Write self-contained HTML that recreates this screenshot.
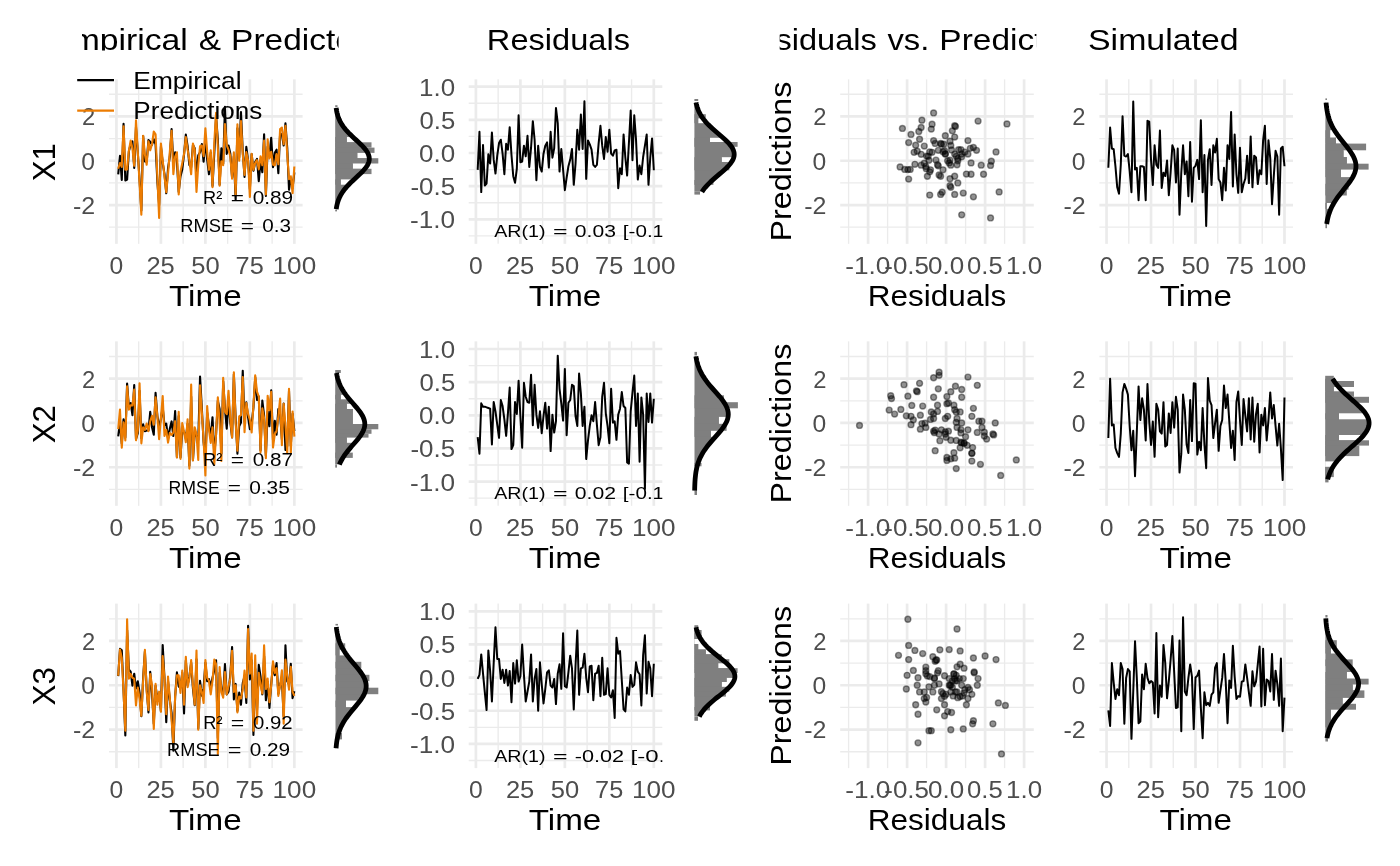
<!DOCTYPE html><html><head><meta charset="utf-8"><style>html,body{margin:0;padding:0;background:#fff;overflow:hidden}svg{display:block;will-change:transform}text{font-family:"Liberation Sans",sans-serif}</style></head><body><svg width="1400" height="866" viewBox="0 0 1400 866" font-family="Liberation Sans, sans-serif">
<rect width="1400" height="866" fill="#fff"/>
<defs>
<clipPath id="ct1"><rect x="82" y="0" width="256.6" height="50.5"/></clipPath>
<clipPath id="ct3"><rect x="779.7" y="0" width="256.7" height="50.5"/></clipPath>
<clipPath id="p10"><rect x="109.00" y="79.35" width="193.6" height="164.5"/></clipPath>
<clipPath id="p20"><rect x="468.70" y="79.35" width="193.6" height="164.5"/></clipPath>
<clipPath id="p30"><rect x="840.20" y="79.35" width="193.6" height="164.5"/></clipPath>
<clipPath id="p40"><rect x="1099.40" y="79.35" width="193.6" height="164.5"/></clipPath>
<clipPath id="p11"><rect x="109.00" y="341.35" width="193.6" height="164.5"/></clipPath>
<clipPath id="p21"><rect x="468.70" y="341.35" width="193.6" height="164.5"/></clipPath>
<clipPath id="p31"><rect x="840.20" y="341.35" width="193.6" height="164.5"/></clipPath>
<clipPath id="p41"><rect x="1099.40" y="341.35" width="193.6" height="164.5"/></clipPath>
<clipPath id="p12"><rect x="109.00" y="603.60" width="193.6" height="164.5"/></clipPath>
<clipPath id="p22"><rect x="468.70" y="603.60" width="193.6" height="164.5"/></clipPath>
<clipPath id="p32"><rect x="840.20" y="603.60" width="193.6" height="164.5"/></clipPath>
<clipPath id="p42"><rect x="1099.40" y="603.60" width="193.6" height="164.5"/></clipPath>
</defs>
<g clip-path="url(#ct1)">
<text x="49.18" y="50.00" font-size="30.20" textLength="138.71" lengthAdjust="spacingAndGlyphs" fill="#000">Empirical</text>
<text x="198.69" y="50.00" font-size="30.20" textLength="22.28" lengthAdjust="spacingAndGlyphs" fill="#000">&amp;</text>
<text x="231.11" y="50.00" font-size="30.20" textLength="141.25" lengthAdjust="spacingAndGlyphs" fill="#000">Predicted</text>
</g>
<text x="486.87" y="50.00" font-size="30.20" textLength="143.11" lengthAdjust="spacingAndGlyphs" fill="#000">Residuals</text>
<g clip-path="url(#ct3)">
<text x="733.77" y="50.00" font-size="30.20" textLength="143.11" lengthAdjust="spacingAndGlyphs" fill="#000">Residuals</text>
<text x="887.49" y="50.00" font-size="30.20" textLength="41.89" lengthAdjust="spacingAndGlyphs" fill="#000">vs.</text>
<text x="939.37" y="50.00" font-size="30.20" textLength="141.25" lengthAdjust="spacingAndGlyphs" fill="#000">Predicted</text>
</g>
<text x="1088.04" y="50.00" font-size="30.20" textLength="150.62" lengthAdjust="spacingAndGlyphs" fill="#000">Simulated</text>
<line x1="109.00" y1="94.29" x2="302.60" y2="94.29" stroke="#EBEBEB" stroke-width="1.35"/>
<line x1="109.00" y1="138.59" x2="302.60" y2="138.59" stroke="#EBEBEB" stroke-width="1.35"/>
<line x1="109.00" y1="182.89" x2="302.60" y2="182.89" stroke="#EBEBEB" stroke-width="1.35"/>
<line x1="109.00" y1="227.19" x2="302.60" y2="227.19" stroke="#EBEBEB" stroke-width="1.35"/>
<line x1="138.67" y1="79.35" x2="138.67" y2="243.85" stroke="#EBEBEB" stroke-width="1.35"/>
<line x1="183.15" y1="79.35" x2="183.15" y2="243.85" stroke="#EBEBEB" stroke-width="1.35"/>
<line x1="227.63" y1="79.35" x2="227.63" y2="243.85" stroke="#EBEBEB" stroke-width="1.35"/>
<line x1="272.11" y1="79.35" x2="272.11" y2="243.85" stroke="#EBEBEB" stroke-width="1.35"/>
<line x1="109.00" y1="116.44" x2="302.60" y2="116.44" stroke="#EBEBEB" stroke-width="2.7"/>
<line x1="109.00" y1="160.74" x2="302.60" y2="160.74" stroke="#EBEBEB" stroke-width="2.7"/>
<line x1="109.00" y1="205.04" x2="302.60" y2="205.04" stroke="#EBEBEB" stroke-width="2.7"/>
<line x1="116.43" y1="79.35" x2="116.43" y2="243.85" stroke="#EBEBEB" stroke-width="2.7"/>
<line x1="160.91" y1="79.35" x2="160.91" y2="243.85" stroke="#EBEBEB" stroke-width="2.7"/>
<line x1="205.39" y1="79.35" x2="205.39" y2="243.85" stroke="#EBEBEB" stroke-width="2.7"/>
<line x1="249.87" y1="79.35" x2="249.87" y2="243.85" stroke="#EBEBEB" stroke-width="2.7"/>
<line x1="294.35" y1="79.35" x2="294.35" y2="243.85" stroke="#EBEBEB" stroke-width="2.7"/>
<text x="109.57" y="273.85" font-size="24.80" textLength="13.72" lengthAdjust="spacingAndGlyphs" fill="#4D4D4D">0</text>
<text x="146.45" y="273.85" font-size="24.80" textLength="28.37" lengthAdjust="spacingAndGlyphs" fill="#4D4D4D">25</text>
<text x="191.28" y="273.85" font-size="24.80" textLength="28.44" lengthAdjust="spacingAndGlyphs" fill="#4D4D4D">50</text>
<text x="235.60" y="273.85" font-size="24.80" textLength="28.17" lengthAdjust="spacingAndGlyphs" fill="#4D4D4D">75</text>
<text x="272.60" y="273.85" font-size="24.80" textLength="43.55" lengthAdjust="spacingAndGlyphs" fill="#4D4D4D">100</text>
<text x="81.97" y="125.34" font-size="24.80" textLength="13.22" lengthAdjust="spacingAndGlyphs" fill="#4D4D4D">2</text>
<text x="81.25" y="169.64" font-size="24.80" textLength="13.72" lengthAdjust="spacingAndGlyphs" fill="#4D4D4D">0</text>
<text x="73.04" y="213.94" font-size="24.80" textLength="22.21" lengthAdjust="spacingAndGlyphs" fill="#4D4D4D">-2</text>
<text x="169.05" y="305.65" font-size="30.20" textLength="72.59" lengthAdjust="spacingAndGlyphs" fill="#000">Time</text>
<line x1="468.70" y1="103.28" x2="662.30" y2="103.28" stroke="#EBEBEB" stroke-width="1.35"/>
<line x1="468.70" y1="136.43" x2="662.30" y2="136.43" stroke="#EBEBEB" stroke-width="1.35"/>
<line x1="468.70" y1="169.57" x2="662.30" y2="169.57" stroke="#EBEBEB" stroke-width="1.35"/>
<line x1="468.70" y1="202.72" x2="662.30" y2="202.72" stroke="#EBEBEB" stroke-width="1.35"/>
<line x1="468.70" y1="235.88" x2="662.30" y2="235.88" stroke="#EBEBEB" stroke-width="1.35"/>
<line x1="498.14" y1="79.35" x2="498.14" y2="243.85" stroke="#EBEBEB" stroke-width="1.35"/>
<line x1="542.62" y1="79.35" x2="542.62" y2="243.85" stroke="#EBEBEB" stroke-width="1.35"/>
<line x1="587.10" y1="79.35" x2="587.10" y2="243.85" stroke="#EBEBEB" stroke-width="1.35"/>
<line x1="631.58" y1="79.35" x2="631.58" y2="243.85" stroke="#EBEBEB" stroke-width="1.35"/>
<line x1="468.70" y1="86.70" x2="662.30" y2="86.70" stroke="#EBEBEB" stroke-width="2.7"/>
<line x1="468.70" y1="119.85" x2="662.30" y2="119.85" stroke="#EBEBEB" stroke-width="2.7"/>
<line x1="468.70" y1="153.00" x2="662.30" y2="153.00" stroke="#EBEBEB" stroke-width="2.7"/>
<line x1="468.70" y1="186.15" x2="662.30" y2="186.15" stroke="#EBEBEB" stroke-width="2.7"/>
<line x1="468.70" y1="219.30" x2="662.30" y2="219.30" stroke="#EBEBEB" stroke-width="2.7"/>
<line x1="475.90" y1="79.35" x2="475.90" y2="243.85" stroke="#EBEBEB" stroke-width="2.7"/>
<line x1="520.38" y1="79.35" x2="520.38" y2="243.85" stroke="#EBEBEB" stroke-width="2.7"/>
<line x1="564.86" y1="79.35" x2="564.86" y2="243.85" stroke="#EBEBEB" stroke-width="2.7"/>
<line x1="609.34" y1="79.35" x2="609.34" y2="243.85" stroke="#EBEBEB" stroke-width="2.7"/>
<line x1="653.82" y1="79.35" x2="653.82" y2="243.85" stroke="#EBEBEB" stroke-width="2.7"/>
<text x="469.04" y="273.85" font-size="24.80" textLength="13.72" lengthAdjust="spacingAndGlyphs" fill="#4D4D4D">0</text>
<text x="505.92" y="273.85" font-size="24.80" textLength="28.37" lengthAdjust="spacingAndGlyphs" fill="#4D4D4D">25</text>
<text x="550.75" y="273.85" font-size="24.80" textLength="28.44" lengthAdjust="spacingAndGlyphs" fill="#4D4D4D">50</text>
<text x="595.07" y="273.85" font-size="24.80" textLength="28.17" lengthAdjust="spacingAndGlyphs" fill="#4D4D4D">75</text>
<text x="632.07" y="273.85" font-size="24.80" textLength="43.55" lengthAdjust="spacingAndGlyphs" fill="#4D4D4D">100</text>
<text x="419.03" y="95.60" font-size="24.80" textLength="36.08" lengthAdjust="spacingAndGlyphs" fill="#4D4D4D">1.0</text>
<text x="419.47" y="128.75" font-size="24.80" textLength="35.71" lengthAdjust="spacingAndGlyphs" fill="#4D4D4D">0.5</text>
<text x="418.97" y="161.90" font-size="24.80" textLength="36.15" lengthAdjust="spacingAndGlyphs" fill="#4D4D4D">0.0</text>
<text x="410.48" y="195.05" font-size="24.80" textLength="44.71" lengthAdjust="spacingAndGlyphs" fill="#4D4D4D">-0.5</text>
<text x="409.97" y="228.20" font-size="24.80" textLength="45.15" lengthAdjust="spacingAndGlyphs" fill="#4D4D4D">-1.0</text>
<text x="528.75" y="305.65" font-size="30.20" textLength="72.59" lengthAdjust="spacingAndGlyphs" fill="#000">Time</text>
<line x1="840.20" y1="94.29" x2="1033.80" y2="94.29" stroke="#EBEBEB" stroke-width="1.35"/>
<line x1="840.20" y1="138.59" x2="1033.80" y2="138.59" stroke="#EBEBEB" stroke-width="1.35"/>
<line x1="840.20" y1="182.89" x2="1033.80" y2="182.89" stroke="#EBEBEB" stroke-width="1.35"/>
<line x1="840.20" y1="227.19" x2="1033.80" y2="227.19" stroke="#EBEBEB" stroke-width="1.35"/>
<line x1="848.60" y1="79.35" x2="848.60" y2="243.85" stroke="#EBEBEB" stroke-width="1.35"/>
<line x1="887.60" y1="79.35" x2="887.60" y2="243.85" stroke="#EBEBEB" stroke-width="1.35"/>
<line x1="926.60" y1="79.35" x2="926.60" y2="243.85" stroke="#EBEBEB" stroke-width="1.35"/>
<line x1="965.60" y1="79.35" x2="965.60" y2="243.85" stroke="#EBEBEB" stroke-width="1.35"/>
<line x1="1004.60" y1="79.35" x2="1004.60" y2="243.85" stroke="#EBEBEB" stroke-width="1.35"/>
<line x1="840.20" y1="116.44" x2="1033.80" y2="116.44" stroke="#EBEBEB" stroke-width="2.7"/>
<line x1="840.20" y1="160.74" x2="1033.80" y2="160.74" stroke="#EBEBEB" stroke-width="2.7"/>
<line x1="840.20" y1="205.04" x2="1033.80" y2="205.04" stroke="#EBEBEB" stroke-width="2.7"/>
<line x1="868.10" y1="79.35" x2="868.10" y2="243.85" stroke="#EBEBEB" stroke-width="2.7"/>
<line x1="907.10" y1="79.35" x2="907.10" y2="243.85" stroke="#EBEBEB" stroke-width="2.7"/>
<line x1="946.10" y1="79.35" x2="946.10" y2="243.85" stroke="#EBEBEB" stroke-width="2.7"/>
<line x1="985.10" y1="79.35" x2="985.10" y2="243.85" stroke="#EBEBEB" stroke-width="2.7"/>
<line x1="1024.10" y1="79.35" x2="1024.10" y2="243.85" stroke="#EBEBEB" stroke-width="2.7"/>
<text x="845.25" y="273.85" font-size="24.80" textLength="45.15" lengthAdjust="spacingAndGlyphs" fill="#4D4D4D">-1.0</text>
<text x="884.26" y="273.85" font-size="24.80" textLength="44.71" lengthAdjust="spacingAndGlyphs" fill="#4D4D4D">-0.5</text>
<text x="928.02" y="273.85" font-size="24.80" textLength="36.15" lengthAdjust="spacingAndGlyphs" fill="#4D4D4D">0.0</text>
<text x="967.03" y="273.85" font-size="24.80" textLength="35.71" lengthAdjust="spacingAndGlyphs" fill="#4D4D4D">0.5</text>
<text x="1006.09" y="273.85" font-size="24.80" textLength="36.08" lengthAdjust="spacingAndGlyphs" fill="#4D4D4D">1.0</text>
<text x="813.17" y="125.34" font-size="24.80" textLength="13.22" lengthAdjust="spacingAndGlyphs" fill="#4D4D4D">2</text>
<text x="812.45" y="169.64" font-size="24.80" textLength="13.72" lengthAdjust="spacingAndGlyphs" fill="#4D4D4D">0</text>
<text x="804.24" y="213.94" font-size="24.80" textLength="22.21" lengthAdjust="spacingAndGlyphs" fill="#4D4D4D">-2</text>
<text x="867.82" y="305.65" font-size="30.20" textLength="138.34" lengthAdjust="spacingAndGlyphs" fill="#000">Residuals</text>
<line x1="1099.40" y1="94.29" x2="1293.00" y2="94.29" stroke="#EBEBEB" stroke-width="1.35"/>
<line x1="1099.40" y1="138.59" x2="1293.00" y2="138.59" stroke="#EBEBEB" stroke-width="1.35"/>
<line x1="1099.40" y1="182.89" x2="1293.00" y2="182.89" stroke="#EBEBEB" stroke-width="1.35"/>
<line x1="1099.40" y1="227.19" x2="1293.00" y2="227.19" stroke="#EBEBEB" stroke-width="1.35"/>
<line x1="1128.79" y1="79.35" x2="1128.79" y2="243.85" stroke="#EBEBEB" stroke-width="1.35"/>
<line x1="1173.27" y1="79.35" x2="1173.27" y2="243.85" stroke="#EBEBEB" stroke-width="1.35"/>
<line x1="1217.75" y1="79.35" x2="1217.75" y2="243.85" stroke="#EBEBEB" stroke-width="1.35"/>
<line x1="1262.23" y1="79.35" x2="1262.23" y2="243.85" stroke="#EBEBEB" stroke-width="1.35"/>
<line x1="1099.40" y1="116.44" x2="1293.00" y2="116.44" stroke="#EBEBEB" stroke-width="2.7"/>
<line x1="1099.40" y1="160.74" x2="1293.00" y2="160.74" stroke="#EBEBEB" stroke-width="2.7"/>
<line x1="1099.40" y1="205.04" x2="1293.00" y2="205.04" stroke="#EBEBEB" stroke-width="2.7"/>
<line x1="1106.55" y1="79.35" x2="1106.55" y2="243.85" stroke="#EBEBEB" stroke-width="2.7"/>
<line x1="1151.03" y1="79.35" x2="1151.03" y2="243.85" stroke="#EBEBEB" stroke-width="2.7"/>
<line x1="1195.51" y1="79.35" x2="1195.51" y2="243.85" stroke="#EBEBEB" stroke-width="2.7"/>
<line x1="1239.99" y1="79.35" x2="1239.99" y2="243.85" stroke="#EBEBEB" stroke-width="2.7"/>
<line x1="1284.47" y1="79.35" x2="1284.47" y2="243.85" stroke="#EBEBEB" stroke-width="2.7"/>
<text x="1099.69" y="273.85" font-size="24.80" textLength="13.72" lengthAdjust="spacingAndGlyphs" fill="#4D4D4D">0</text>
<text x="1136.57" y="273.85" font-size="24.80" textLength="28.37" lengthAdjust="spacingAndGlyphs" fill="#4D4D4D">25</text>
<text x="1181.40" y="273.85" font-size="24.80" textLength="28.44" lengthAdjust="spacingAndGlyphs" fill="#4D4D4D">50</text>
<text x="1225.72" y="273.85" font-size="24.80" textLength="28.17" lengthAdjust="spacingAndGlyphs" fill="#4D4D4D">75</text>
<text x="1262.72" y="273.85" font-size="24.80" textLength="43.55" lengthAdjust="spacingAndGlyphs" fill="#4D4D4D">100</text>
<text x="1072.37" y="125.34" font-size="24.80" textLength="13.22" lengthAdjust="spacingAndGlyphs" fill="#4D4D4D">2</text>
<text x="1071.65" y="169.64" font-size="24.80" textLength="13.72" lengthAdjust="spacingAndGlyphs" fill="#4D4D4D">0</text>
<text x="1063.44" y="213.94" font-size="24.80" textLength="22.21" lengthAdjust="spacingAndGlyphs" fill="#4D4D4D">-2</text>
<text x="1159.45" y="305.65" font-size="30.20" textLength="72.59" lengthAdjust="spacingAndGlyphs" fill="#000">Time</text>
<g transform="translate(54.90,161.60) rotate(-90)">
<text x="-19.63" y="0.00" font-size="31.50" textLength="38.20" lengthAdjust="spacingAndGlyphs" fill="#000">X1</text>
</g>
<g transform="translate(790.90,161.60) rotate(-90)">
<text x="-79.97" y="0.00" font-size="30.20" textLength="159.88" lengthAdjust="spacingAndGlyphs" fill="#000">Predictions</text>
</g>
<g clip-path="url(#p10)">
<polyline points="118.21,174.36 119.99,155.87 121.77,180.01 123.55,123.75 125.33,180.45 127.11,179.57 128.88,151.22 130.66,144.13 132.44,141.47 134.22,168.05 136.00,127.07 137.78,152.54 139.56,179.57 141.34,210.36 143.12,135.93 144.90,161.40 146.68,161.63 148.46,140.14 150.23,141.69 152.01,144.79 153.79,139.25 155.57,144.35 157.35,181.56 159.13,205.26 160.91,146.56 162.69,162.96 164.47,173.81 166.25,193.30 168.03,168.27 169.81,156.53 171.59,129.07 173.36,163.62 175.14,152.32 176.92,161.40 178.70,191.97 180.48,176.47 182.26,169.38 184.04,154.32 185.82,134.60 187.60,146.12 189.38,165.17 191.16,167.16 192.94,145.01 194.71,148.34 196.49,176.91 198.27,155.20 200.05,152.32 201.83,144.13 203.61,161.63 205.39,140.81 207.17,159.41 208.95,174.25 210.73,152.54 212.51,185.99 214.29,153.21 216.07,116.44 217.84,139.70 219.62,184.66 221.40,148.34 223.18,163.84 224.96,106.69 226.74,153.87 228.52,145.46 230.30,153.43 232.08,177.57 233.86,156.31 235.64,199.72 237.42,128.18 239.19,157.42 240.97,112.01 242.75,151.66 244.53,176.91 246.31,146.79 248.09,160.30 249.87,189.09 251.65,154.09 253.43,170.71 255.21,162.07 256.99,158.97 258.77,181.12 260.55,161.40 262.32,172.26 264.10,134.38 265.88,195.96 267.66,146.79 269.44,155.20 271.22,137.70 273.00,167.16 274.78,152.77 276.56,149.67 278.34,173.14 280.12,133.27 281.90,134.60 283.67,145.46 285.45,123.31 287.23,147.89 289.01,189.76 290.79,177.80 292.57,188.21 294.35,172.26" fill="none" stroke="#000" stroke-width="2.1" stroke-linejoin="round" stroke-linecap="butt" />
<polyline points="118.21,168.71 119.99,162.96 121.77,166.94 123.55,126.41 125.33,169.60 127.11,169.38 128.88,150.77 130.66,140.58 132.44,148.34 134.22,165.83 136.00,120.21 137.78,151.66 139.56,182.89 141.34,214.79 143.12,135.71 144.90,154.32 146.68,164.73 148.46,141.25 150.23,150.33 152.01,144.13 153.79,131.50 155.57,134.38 157.35,176.25 159.13,217.89 160.91,143.46 162.69,160.08 164.47,176.25 166.25,192.19 168.03,174.03 169.81,151.88 171.59,130.84 173.36,174.25 175.14,156.75 176.92,152.32 178.70,194.41 180.48,171.81 182.26,163.18 184.04,154.09 185.82,137.04 187.60,149.67 189.38,160.30 191.16,174.25 192.94,143.46 194.71,149.89 196.49,191.97 198.27,165.17 200.05,146.12 201.83,145.46 203.61,156.09 205.39,128.40 207.17,151.22 208.95,169.82 210.73,150.33 212.51,187.32 214.29,142.58 216.07,112.90 217.84,147.45 219.62,185.77 221.40,161.18 223.18,165.17 224.96,123.97 226.74,145.24 228.52,149.67 230.30,156.31 232.08,178.68 233.86,152.32 235.64,195.07 237.42,124.19 239.19,160.74 240.97,121.09 242.75,154.09 244.53,174.92 246.31,152.10 248.09,160.74 249.87,196.84 251.65,153.87 253.43,169.82 255.21,162.96 256.99,160.08 258.77,169.38 260.55,156.31 262.32,165.17 264.10,140.58 265.88,194.41 267.66,139.25 269.44,158.53 271.22,151.88 273.00,164.73 274.78,165.39 276.56,154.09 278.34,164.28 280.12,129.07 281.90,127.52 283.67,144.13 285.45,125.74 287.23,154.09 289.01,179.12 290.79,176.25 292.57,193.08 294.35,166.50" fill="none" stroke="#EC7C02" stroke-width="2.1" stroke-linejoin="round" stroke-linecap="butt" />
</g>
<g clip-path="url(#p20)">
<polyline points="477.68,169.91 479.46,131.78 481.24,192.12 483.02,145.04 484.80,185.49 486.58,183.50 488.35,154.33 490.13,163.61 491.91,132.45 493.69,159.63 495.47,173.55 497.25,155.65 499.03,143.06 500.81,139.74 502.59,153.66 504.37,174.22 506.15,143.72 507.93,149.69 509.70,127.14 511.48,154.99 513.26,176.20 515.04,182.84 516.82,168.91 518.60,115.21 520.38,162.28 522.16,161.62 523.94,145.71 525.72,156.31 527.50,135.76 529.28,166.92 531.06,147.70 532.83,121.18 534.61,139.74 536.39,180.18 538.17,145.71 539.95,166.92 541.73,171.56 543.51,153.66 545.29,145.71 547.07,142.39 548.85,167.59 550.63,131.78 552.41,157.64 554.18,148.36 555.96,107.92 557.74,123.16 559.52,171.56 561.30,149.02 563.08,169.57 564.86,190.13 566.64,177.53 568.42,166.26 570.20,159.63 571.98,149.02 573.76,184.82 575.54,163.61 577.31,129.80 579.09,149.69 580.87,114.55 582.65,149.02 584.43,101.29 586.21,178.86 587.99,140.40 589.77,144.38 591.55,149.69 593.33,164.93 595.11,166.92 596.89,164.93 598.66,143.06 600.44,125.82 602.22,145.71 604.00,158.97 605.78,137.09 607.56,151.67 609.34,129.80 611.12,153.66 612.90,155.65 614.68,150.35 616.46,149.69 618.24,188.14 620.02,168.25 621.79,174.22 623.57,134.44 625.35,157.64 627.13,175.54 628.91,143.06 630.69,110.57 632.47,160.29 634.25,115.21 636.03,139.74 637.81,179.52 639.59,165.60 641.37,174.22 643.14,156.98 644.92,145.71 646.70,134.44 648.48,184.82 650.26,157.64 652.04,138.41 653.82,170.24" fill="none" stroke="#000" stroke-width="2.0" stroke-linejoin="round" stroke-linecap="butt" />
</g>
<g clip-path="url(#p30)">
<circle cx="926.21" cy="168.71" r="2.95" fill="rgba(0,0,0,0.43)" stroke="rgba(0,0,0,0.43)" stroke-width="1.4"/>
<circle cx="971.06" cy="162.96" r="2.95" fill="rgba(0,0,0,0.43)" stroke="rgba(0,0,0,0.43)" stroke-width="1.4"/>
<circle cx="900.08" cy="166.94" r="2.95" fill="rgba(0,0,0,0.43)" stroke="rgba(0,0,0,0.43)" stroke-width="1.4"/>
<circle cx="955.46" cy="126.41" r="2.95" fill="rgba(0,0,0,0.43)" stroke="rgba(0,0,0,0.43)" stroke-width="1.4"/>
<circle cx="907.88" cy="169.60" r="2.95" fill="rgba(0,0,0,0.43)" stroke="rgba(0,0,0,0.43)" stroke-width="1.4"/>
<circle cx="910.22" cy="169.38" r="2.95" fill="rgba(0,0,0,0.43)" stroke="rgba(0,0,0,0.43)" stroke-width="1.4"/>
<circle cx="944.54" cy="150.77" r="2.95" fill="rgba(0,0,0,0.43)" stroke="rgba(0,0,0,0.43)" stroke-width="1.4"/>
<circle cx="933.62" cy="140.58" r="2.95" fill="rgba(0,0,0,0.43)" stroke="rgba(0,0,0,0.43)" stroke-width="1.4"/>
<circle cx="970.28" cy="148.34" r="2.95" fill="rgba(0,0,0,0.43)" stroke="rgba(0,0,0,0.43)" stroke-width="1.4"/>
<circle cx="938.30" cy="165.83" r="2.95" fill="rgba(0,0,0,0.43)" stroke="rgba(0,0,0,0.43)" stroke-width="1.4"/>
<circle cx="921.92" cy="120.21" r="2.95" fill="rgba(0,0,0,0.43)" stroke="rgba(0,0,0,0.43)" stroke-width="1.4"/>
<circle cx="942.98" cy="151.66" r="2.95" fill="rgba(0,0,0,0.43)" stroke="rgba(0,0,0,0.43)" stroke-width="1.4"/>
<circle cx="957.80" cy="182.89" r="2.95" fill="rgba(0,0,0,0.43)" stroke="rgba(0,0,0,0.43)" stroke-width="1.4"/>
<circle cx="961.70" cy="214.79" r="2.95" fill="rgba(0,0,0,0.43)" stroke="rgba(0,0,0,0.43)" stroke-width="1.4"/>
<circle cx="945.32" cy="135.71" r="2.95" fill="rgba(0,0,0,0.43)" stroke="rgba(0,0,0,0.43)" stroke-width="1.4"/>
<circle cx="921.14" cy="154.32" r="2.95" fill="rgba(0,0,0,0.43)" stroke="rgba(0,0,0,0.43)" stroke-width="1.4"/>
<circle cx="957.02" cy="164.73" r="2.95" fill="rgba(0,0,0,0.43)" stroke="rgba(0,0,0,0.43)" stroke-width="1.4"/>
<circle cx="950.00" cy="141.25" r="2.95" fill="rgba(0,0,0,0.43)" stroke="rgba(0,0,0,0.43)" stroke-width="1.4"/>
<circle cx="976.52" cy="150.33" r="2.95" fill="rgba(0,0,0,0.43)" stroke="rgba(0,0,0,0.43)" stroke-width="1.4"/>
<circle cx="943.76" cy="144.13" r="2.95" fill="rgba(0,0,0,0.43)" stroke="rgba(0,0,0,0.43)" stroke-width="1.4"/>
<circle cx="918.80" cy="131.50" r="2.95" fill="rgba(0,0,0,0.43)" stroke="rgba(0,0,0,0.43)" stroke-width="1.4"/>
<circle cx="911.00" cy="134.38" r="2.95" fill="rgba(0,0,0,0.43)" stroke="rgba(0,0,0,0.43)" stroke-width="1.4"/>
<circle cx="927.38" cy="176.25" r="2.95" fill="rgba(0,0,0,0.43)" stroke="rgba(0,0,0,0.43)" stroke-width="1.4"/>
<circle cx="990.56" cy="217.89" r="2.95" fill="rgba(0,0,0,0.43)" stroke="rgba(0,0,0,0.43)" stroke-width="1.4"/>
<circle cx="935.18" cy="143.46" r="2.95" fill="rgba(0,0,0,0.43)" stroke="rgba(0,0,0,0.43)" stroke-width="1.4"/>
<circle cx="935.96" cy="160.08" r="2.95" fill="rgba(0,0,0,0.43)" stroke="rgba(0,0,0,0.43)" stroke-width="1.4"/>
<circle cx="954.68" cy="176.25" r="2.95" fill="rgba(0,0,0,0.43)" stroke="rgba(0,0,0,0.43)" stroke-width="1.4"/>
<circle cx="942.20" cy="192.19" r="2.95" fill="rgba(0,0,0,0.43)" stroke="rgba(0,0,0,0.43)" stroke-width="1.4"/>
<circle cx="966.38" cy="174.03" r="2.95" fill="rgba(0,0,0,0.43)" stroke="rgba(0,0,0,0.43)" stroke-width="1.4"/>
<circle cx="929.72" cy="151.88" r="2.95" fill="rgba(0,0,0,0.43)" stroke="rgba(0,0,0,0.43)" stroke-width="1.4"/>
<circle cx="952.34" cy="130.84" r="2.95" fill="rgba(0,0,0,0.43)" stroke="rgba(0,0,0,0.43)" stroke-width="1.4"/>
<circle cx="983.54" cy="174.25" r="2.95" fill="rgba(0,0,0,0.43)" stroke="rgba(0,0,0,0.43)" stroke-width="1.4"/>
<circle cx="961.70" cy="156.75" r="2.95" fill="rgba(0,0,0,0.43)" stroke="rgba(0,0,0,0.43)" stroke-width="1.4"/>
<circle cx="914.12" cy="152.32" r="2.95" fill="rgba(0,0,0,0.43)" stroke="rgba(0,0,0,0.43)" stroke-width="1.4"/>
<circle cx="954.68" cy="194.41" r="2.95" fill="rgba(0,0,0,0.43)" stroke="rgba(0,0,0,0.43)" stroke-width="1.4"/>
<circle cx="929.72" cy="171.81" r="2.95" fill="rgba(0,0,0,0.43)" stroke="rgba(0,0,0,0.43)" stroke-width="1.4"/>
<circle cx="924.26" cy="163.18" r="2.95" fill="rgba(0,0,0,0.43)" stroke="rgba(0,0,0,0.43)" stroke-width="1.4"/>
<circle cx="945.32" cy="154.09" r="2.95" fill="rgba(0,0,0,0.43)" stroke="rgba(0,0,0,0.43)" stroke-width="1.4"/>
<circle cx="954.68" cy="137.04" r="2.95" fill="rgba(0,0,0,0.43)" stroke="rgba(0,0,0,0.43)" stroke-width="1.4"/>
<circle cx="958.58" cy="149.67" r="2.95" fill="rgba(0,0,0,0.43)" stroke="rgba(0,0,0,0.43)" stroke-width="1.4"/>
<circle cx="928.94" cy="160.30" r="2.95" fill="rgba(0,0,0,0.43)" stroke="rgba(0,0,0,0.43)" stroke-width="1.4"/>
<circle cx="971.06" cy="174.25" r="2.95" fill="rgba(0,0,0,0.43)" stroke="rgba(0,0,0,0.43)" stroke-width="1.4"/>
<circle cx="940.64" cy="143.46" r="2.95" fill="rgba(0,0,0,0.43)" stroke="rgba(0,0,0,0.43)" stroke-width="1.4"/>
<circle cx="951.56" cy="149.89" r="2.95" fill="rgba(0,0,0,0.43)" stroke="rgba(0,0,0,0.43)" stroke-width="1.4"/>
<circle cx="999.14" cy="191.97" r="2.95" fill="rgba(0,0,0,0.43)" stroke="rgba(0,0,0,0.43)" stroke-width="1.4"/>
<circle cx="981.20" cy="165.17" r="2.95" fill="rgba(0,0,0,0.43)" stroke="rgba(0,0,0,0.43)" stroke-width="1.4"/>
<circle cx="924.26" cy="146.12" r="2.95" fill="rgba(0,0,0,0.43)" stroke="rgba(0,0,0,0.43)" stroke-width="1.4"/>
<circle cx="950.78" cy="145.46" r="2.95" fill="rgba(0,0,0,0.43)" stroke="rgba(0,0,0,0.43)" stroke-width="1.4"/>
<circle cx="926.60" cy="156.09" r="2.95" fill="rgba(0,0,0,0.43)" stroke="rgba(0,0,0,0.43)" stroke-width="1.4"/>
<circle cx="902.42" cy="128.40" r="2.95" fill="rgba(0,0,0,0.43)" stroke="rgba(0,0,0,0.43)" stroke-width="1.4"/>
<circle cx="917.24" cy="151.22" r="2.95" fill="rgba(0,0,0,0.43)" stroke="rgba(0,0,0,0.43)" stroke-width="1.4"/>
<circle cx="930.50" cy="169.82" r="2.95" fill="rgba(0,0,0,0.43)" stroke="rgba(0,0,0,0.43)" stroke-width="1.4"/>
<circle cx="938.30" cy="150.33" r="2.95" fill="rgba(0,0,0,0.43)" stroke="rgba(0,0,0,0.43)" stroke-width="1.4"/>
<circle cx="950.78" cy="187.32" r="2.95" fill="rgba(0,0,0,0.43)" stroke="rgba(0,0,0,0.43)" stroke-width="1.4"/>
<circle cx="908.66" cy="142.58" r="2.95" fill="rgba(0,0,0,0.43)" stroke="rgba(0,0,0,0.43)" stroke-width="1.4"/>
<circle cx="933.62" cy="112.90" r="2.95" fill="rgba(0,0,0,0.43)" stroke="rgba(0,0,0,0.43)" stroke-width="1.4"/>
<circle cx="973.40" cy="147.45" r="2.95" fill="rgba(0,0,0,0.43)" stroke="rgba(0,0,0,0.43)" stroke-width="1.4"/>
<circle cx="950.00" cy="185.77" r="2.95" fill="rgba(0,0,0,0.43)" stroke="rgba(0,0,0,0.43)" stroke-width="1.4"/>
<circle cx="991.34" cy="161.18" r="2.95" fill="rgba(0,0,0,0.43)" stroke="rgba(0,0,0,0.43)" stroke-width="1.4"/>
<circle cx="950.78" cy="165.17" r="2.95" fill="rgba(0,0,0,0.43)" stroke="rgba(0,0,0,0.43)" stroke-width="1.4"/>
<circle cx="1006.94" cy="123.97" r="2.95" fill="rgba(0,0,0,0.43)" stroke="rgba(0,0,0,0.43)" stroke-width="1.4"/>
<circle cx="915.68" cy="145.24" r="2.95" fill="rgba(0,0,0,0.43)" stroke="rgba(0,0,0,0.43)" stroke-width="1.4"/>
<circle cx="960.92" cy="149.67" r="2.95" fill="rgba(0,0,0,0.43)" stroke="rgba(0,0,0,0.43)" stroke-width="1.4"/>
<circle cx="956.24" cy="156.31" r="2.95" fill="rgba(0,0,0,0.43)" stroke="rgba(0,0,0,0.43)" stroke-width="1.4"/>
<circle cx="950.00" cy="178.68" r="2.95" fill="rgba(0,0,0,0.43)" stroke="rgba(0,0,0,0.43)" stroke-width="1.4"/>
<circle cx="932.06" cy="152.32" r="2.95" fill="rgba(0,0,0,0.43)" stroke="rgba(0,0,0,0.43)" stroke-width="1.4"/>
<circle cx="929.72" cy="195.07" r="2.95" fill="rgba(0,0,0,0.43)" stroke="rgba(0,0,0,0.43)" stroke-width="1.4"/>
<circle cx="932.06" cy="124.19" r="2.95" fill="rgba(0,0,0,0.43)" stroke="rgba(0,0,0,0.43)" stroke-width="1.4"/>
<circle cx="957.80" cy="160.74" r="2.95" fill="rgba(0,0,0,0.43)" stroke="rgba(0,0,0,0.43)" stroke-width="1.4"/>
<circle cx="978.08" cy="121.09" r="2.95" fill="rgba(0,0,0,0.43)" stroke="rgba(0,0,0,0.43)" stroke-width="1.4"/>
<circle cx="954.68" cy="154.09" r="2.95" fill="rgba(0,0,0,0.43)" stroke="rgba(0,0,0,0.43)" stroke-width="1.4"/>
<circle cx="939.08" cy="174.92" r="2.95" fill="rgba(0,0,0,0.43)" stroke="rgba(0,0,0,0.43)" stroke-width="1.4"/>
<circle cx="964.82" cy="152.10" r="2.95" fill="rgba(0,0,0,0.43)" stroke="rgba(0,0,0,0.43)" stroke-width="1.4"/>
<circle cx="947.66" cy="160.74" r="2.95" fill="rgba(0,0,0,0.43)" stroke="rgba(0,0,0,0.43)" stroke-width="1.4"/>
<circle cx="973.40" cy="196.84" r="2.95" fill="rgba(0,0,0,0.43)" stroke="rgba(0,0,0,0.43)" stroke-width="1.4"/>
<circle cx="945.32" cy="153.87" r="2.95" fill="rgba(0,0,0,0.43)" stroke="rgba(0,0,0,0.43)" stroke-width="1.4"/>
<circle cx="942.98" cy="169.82" r="2.95" fill="rgba(0,0,0,0.43)" stroke="rgba(0,0,0,0.43)" stroke-width="1.4"/>
<circle cx="949.22" cy="162.96" r="2.95" fill="rgba(0,0,0,0.43)" stroke="rgba(0,0,0,0.43)" stroke-width="1.4"/>
<circle cx="950.00" cy="160.08" r="2.95" fill="rgba(0,0,0,0.43)" stroke="rgba(0,0,0,0.43)" stroke-width="1.4"/>
<circle cx="904.76" cy="169.38" r="2.95" fill="rgba(0,0,0,0.43)" stroke="rgba(0,0,0,0.43)" stroke-width="1.4"/>
<circle cx="928.16" cy="156.31" r="2.95" fill="rgba(0,0,0,0.43)" stroke="rgba(0,0,0,0.43)" stroke-width="1.4"/>
<circle cx="921.14" cy="165.17" r="2.95" fill="rgba(0,0,0,0.43)" stroke="rgba(0,0,0,0.43)" stroke-width="1.4"/>
<circle cx="967.94" cy="140.58" r="2.95" fill="rgba(0,0,0,0.43)" stroke="rgba(0,0,0,0.43)" stroke-width="1.4"/>
<circle cx="940.64" cy="194.41" r="2.95" fill="rgba(0,0,0,0.43)" stroke="rgba(0,0,0,0.43)" stroke-width="1.4"/>
<circle cx="919.58" cy="139.25" r="2.95" fill="rgba(0,0,0,0.43)" stroke="rgba(0,0,0,0.43)" stroke-width="1.4"/>
<circle cx="957.80" cy="158.53" r="2.95" fill="rgba(0,0,0,0.43)" stroke="rgba(0,0,0,0.43)" stroke-width="1.4"/>
<circle cx="996.02" cy="151.88" r="2.95" fill="rgba(0,0,0,0.43)" stroke="rgba(0,0,0,0.43)" stroke-width="1.4"/>
<circle cx="937.52" cy="164.73" r="2.95" fill="rgba(0,0,0,0.43)" stroke="rgba(0,0,0,0.43)" stroke-width="1.4"/>
<circle cx="990.56" cy="165.39" r="2.95" fill="rgba(0,0,0,0.43)" stroke="rgba(0,0,0,0.43)" stroke-width="1.4"/>
<circle cx="961.70" cy="154.09" r="2.95" fill="rgba(0,0,0,0.43)" stroke="rgba(0,0,0,0.43)" stroke-width="1.4"/>
<circle cx="914.90" cy="164.28" r="2.95" fill="rgba(0,0,0,0.43)" stroke="rgba(0,0,0,0.43)" stroke-width="1.4"/>
<circle cx="931.28" cy="129.07" r="2.95" fill="rgba(0,0,0,0.43)" stroke="rgba(0,0,0,0.43)" stroke-width="1.4"/>
<circle cx="921.14" cy="127.52" r="2.95" fill="rgba(0,0,0,0.43)" stroke="rgba(0,0,0,0.43)" stroke-width="1.4"/>
<circle cx="941.42" cy="144.13" r="2.95" fill="rgba(0,0,0,0.43)" stroke="rgba(0,0,0,0.43)" stroke-width="1.4"/>
<circle cx="954.68" cy="125.74" r="2.95" fill="rgba(0,0,0,0.43)" stroke="rgba(0,0,0,0.43)" stroke-width="1.4"/>
<circle cx="967.94" cy="154.09" r="2.95" fill="rgba(0,0,0,0.43)" stroke="rgba(0,0,0,0.43)" stroke-width="1.4"/>
<circle cx="908.66" cy="179.12" r="2.95" fill="rgba(0,0,0,0.43)" stroke="rgba(0,0,0,0.43)" stroke-width="1.4"/>
<circle cx="940.64" cy="176.25" r="2.95" fill="rgba(0,0,0,0.43)" stroke="rgba(0,0,0,0.43)" stroke-width="1.4"/>
<circle cx="963.26" cy="193.08" r="2.95" fill="rgba(0,0,0,0.43)" stroke="rgba(0,0,0,0.43)" stroke-width="1.4"/>
<circle cx="925.82" cy="166.50" r="2.95" fill="rgba(0,0,0,0.43)" stroke="rgba(0,0,0,0.43)" stroke-width="1.4"/>
</g>
<g clip-path="url(#p40)">
<polyline points="1108.33,167.83 1110.11,127.52 1111.89,148.56 1113.67,149.22 1115.45,166.28 1117.23,187.32 1119.00,193.74 1120.78,164.73 1122.56,116.22 1124.34,155.65 1126.12,156.53 1127.90,154.09 1129.68,171.15 1131.46,192.19 1133.24,101.60 1135.02,169.38 1136.80,167.83 1138.58,200.17 1140.35,166.28 1142.13,166.28 1143.91,166.94 1145.69,200.17 1147.47,120.87 1149.25,121.76 1151.03,159.85 1152.81,184.88 1154.59,145.24 1156.37,164.73 1158.15,167.83 1159.93,130.62 1161.71,187.98 1163.48,172.70 1165.26,176.02 1167.04,160.52 1168.82,195.29 1170.60,172.70 1172.38,145.24 1174.16,150.11 1175.94,182.45 1177.72,148.56 1179.50,214.79 1181.28,172.70 1183.06,145.24 1184.83,174.25 1186.61,161.40 1188.39,196.18 1190.17,141.91 1191.95,201.72 1193.73,167.83 1195.51,165.83 1197.29,159.85 1199.07,179.12 1200.85,120.21 1202.63,192.19 1204.41,154.98 1206.19,226.08 1207.96,159.85 1209.74,149.22 1211.52,184.88 1213.30,145.24 1215.08,152.54 1216.86,138.81 1218.64,179.12 1220.42,182.45 1222.20,200.17 1223.98,167.83 1225.76,190.42 1227.54,145.24 1229.31,158.97 1231.09,112.01 1232.87,186.43 1234.65,134.60 1236.43,174.25 1238.21,192.86 1239.99,147.67 1241.77,192.19 1243.55,184.00 1245.33,178.46 1247.11,155.65 1248.89,183.11 1250.67,136.38 1252.44,187.32 1254.22,155.65 1256.00,157.42 1257.78,184.00 1259.56,170.26 1261.34,174.25 1263.12,140.36 1264.90,125.74 1266.68,184.00 1268.46,140.36 1270.24,158.08 1272.02,204.15 1273.79,176.02 1275.57,150.77 1277.35,156.53 1279.13,214.79 1280.91,148.56 1282.69,146.79 1284.47,166.28" fill="none" stroke="#000" stroke-width="2.0" stroke-linejoin="round" stroke-linecap="butt" />
</g>
<line x1="109.00" y1="356.50" x2="302.60" y2="356.50" stroke="#EBEBEB" stroke-width="1.35"/>
<line x1="109.00" y1="400.80" x2="302.60" y2="400.80" stroke="#EBEBEB" stroke-width="1.35"/>
<line x1="109.00" y1="445.10" x2="302.60" y2="445.10" stroke="#EBEBEB" stroke-width="1.35"/>
<line x1="109.00" y1="489.40" x2="302.60" y2="489.40" stroke="#EBEBEB" stroke-width="1.35"/>
<line x1="138.67" y1="341.35" x2="138.67" y2="505.85" stroke="#EBEBEB" stroke-width="1.35"/>
<line x1="183.15" y1="341.35" x2="183.15" y2="505.85" stroke="#EBEBEB" stroke-width="1.35"/>
<line x1="227.63" y1="341.35" x2="227.63" y2="505.85" stroke="#EBEBEB" stroke-width="1.35"/>
<line x1="272.11" y1="341.35" x2="272.11" y2="505.85" stroke="#EBEBEB" stroke-width="1.35"/>
<line x1="109.00" y1="378.65" x2="302.60" y2="378.65" stroke="#EBEBEB" stroke-width="2.7"/>
<line x1="109.00" y1="422.95" x2="302.60" y2="422.95" stroke="#EBEBEB" stroke-width="2.7"/>
<line x1="109.00" y1="467.25" x2="302.60" y2="467.25" stroke="#EBEBEB" stroke-width="2.7"/>
<line x1="116.43" y1="341.35" x2="116.43" y2="505.85" stroke="#EBEBEB" stroke-width="2.7"/>
<line x1="160.91" y1="341.35" x2="160.91" y2="505.85" stroke="#EBEBEB" stroke-width="2.7"/>
<line x1="205.39" y1="341.35" x2="205.39" y2="505.85" stroke="#EBEBEB" stroke-width="2.7"/>
<line x1="249.87" y1="341.35" x2="249.87" y2="505.85" stroke="#EBEBEB" stroke-width="2.7"/>
<line x1="294.35" y1="341.35" x2="294.35" y2="505.85" stroke="#EBEBEB" stroke-width="2.7"/>
<text x="109.57" y="535.85" font-size="24.80" textLength="13.72" lengthAdjust="spacingAndGlyphs" fill="#4D4D4D">0</text>
<text x="146.45" y="535.85" font-size="24.80" textLength="28.37" lengthAdjust="spacingAndGlyphs" fill="#4D4D4D">25</text>
<text x="191.28" y="535.85" font-size="24.80" textLength="28.44" lengthAdjust="spacingAndGlyphs" fill="#4D4D4D">50</text>
<text x="235.60" y="535.85" font-size="24.80" textLength="28.17" lengthAdjust="spacingAndGlyphs" fill="#4D4D4D">75</text>
<text x="272.60" y="535.85" font-size="24.80" textLength="43.55" lengthAdjust="spacingAndGlyphs" fill="#4D4D4D">100</text>
<text x="81.97" y="387.55" font-size="24.80" textLength="13.22" lengthAdjust="spacingAndGlyphs" fill="#4D4D4D">2</text>
<text x="81.25" y="431.85" font-size="24.80" textLength="13.72" lengthAdjust="spacingAndGlyphs" fill="#4D4D4D">0</text>
<text x="73.04" y="476.15" font-size="24.80" textLength="22.21" lengthAdjust="spacingAndGlyphs" fill="#4D4D4D">-2</text>
<text x="169.05" y="567.65" font-size="30.20" textLength="72.59" lengthAdjust="spacingAndGlyphs" fill="#000">Time</text>
<line x1="468.70" y1="365.58" x2="662.30" y2="365.58" stroke="#EBEBEB" stroke-width="1.35"/>
<line x1="468.70" y1="398.73" x2="662.30" y2="398.73" stroke="#EBEBEB" stroke-width="1.35"/>
<line x1="468.70" y1="431.88" x2="662.30" y2="431.88" stroke="#EBEBEB" stroke-width="1.35"/>
<line x1="468.70" y1="465.02" x2="662.30" y2="465.02" stroke="#EBEBEB" stroke-width="1.35"/>
<line x1="468.70" y1="498.18" x2="662.30" y2="498.18" stroke="#EBEBEB" stroke-width="1.35"/>
<line x1="498.14" y1="341.35" x2="498.14" y2="505.85" stroke="#EBEBEB" stroke-width="1.35"/>
<line x1="542.62" y1="341.35" x2="542.62" y2="505.85" stroke="#EBEBEB" stroke-width="1.35"/>
<line x1="587.10" y1="341.35" x2="587.10" y2="505.85" stroke="#EBEBEB" stroke-width="1.35"/>
<line x1="631.58" y1="341.35" x2="631.58" y2="505.85" stroke="#EBEBEB" stroke-width="1.35"/>
<line x1="468.70" y1="349.00" x2="662.30" y2="349.00" stroke="#EBEBEB" stroke-width="2.7"/>
<line x1="468.70" y1="382.15" x2="662.30" y2="382.15" stroke="#EBEBEB" stroke-width="2.7"/>
<line x1="468.70" y1="415.30" x2="662.30" y2="415.30" stroke="#EBEBEB" stroke-width="2.7"/>
<line x1="468.70" y1="448.45" x2="662.30" y2="448.45" stroke="#EBEBEB" stroke-width="2.7"/>
<line x1="468.70" y1="481.60" x2="662.30" y2="481.60" stroke="#EBEBEB" stroke-width="2.7"/>
<line x1="475.90" y1="341.35" x2="475.90" y2="505.85" stroke="#EBEBEB" stroke-width="2.7"/>
<line x1="520.38" y1="341.35" x2="520.38" y2="505.85" stroke="#EBEBEB" stroke-width="2.7"/>
<line x1="564.86" y1="341.35" x2="564.86" y2="505.85" stroke="#EBEBEB" stroke-width="2.7"/>
<line x1="609.34" y1="341.35" x2="609.34" y2="505.85" stroke="#EBEBEB" stroke-width="2.7"/>
<line x1="653.82" y1="341.35" x2="653.82" y2="505.85" stroke="#EBEBEB" stroke-width="2.7"/>
<text x="469.04" y="535.85" font-size="24.80" textLength="13.72" lengthAdjust="spacingAndGlyphs" fill="#4D4D4D">0</text>
<text x="505.92" y="535.85" font-size="24.80" textLength="28.37" lengthAdjust="spacingAndGlyphs" fill="#4D4D4D">25</text>
<text x="550.75" y="535.85" font-size="24.80" textLength="28.44" lengthAdjust="spacingAndGlyphs" fill="#4D4D4D">50</text>
<text x="595.07" y="535.85" font-size="24.80" textLength="28.17" lengthAdjust="spacingAndGlyphs" fill="#4D4D4D">75</text>
<text x="632.07" y="535.85" font-size="24.80" textLength="43.55" lengthAdjust="spacingAndGlyphs" fill="#4D4D4D">100</text>
<text x="419.03" y="357.90" font-size="24.80" textLength="36.08" lengthAdjust="spacingAndGlyphs" fill="#4D4D4D">1.0</text>
<text x="419.47" y="391.05" font-size="24.80" textLength="35.71" lengthAdjust="spacingAndGlyphs" fill="#4D4D4D">0.5</text>
<text x="418.97" y="424.20" font-size="24.80" textLength="36.15" lengthAdjust="spacingAndGlyphs" fill="#4D4D4D">0.0</text>
<text x="410.48" y="457.35" font-size="24.80" textLength="44.71" lengthAdjust="spacingAndGlyphs" fill="#4D4D4D">-0.5</text>
<text x="409.97" y="490.50" font-size="24.80" textLength="45.15" lengthAdjust="spacingAndGlyphs" fill="#4D4D4D">-1.0</text>
<text x="528.75" y="567.65" font-size="30.20" textLength="72.59" lengthAdjust="spacingAndGlyphs" fill="#000">Time</text>
<line x1="840.20" y1="356.50" x2="1033.80" y2="356.50" stroke="#EBEBEB" stroke-width="1.35"/>
<line x1="840.20" y1="400.80" x2="1033.80" y2="400.80" stroke="#EBEBEB" stroke-width="1.35"/>
<line x1="840.20" y1="445.10" x2="1033.80" y2="445.10" stroke="#EBEBEB" stroke-width="1.35"/>
<line x1="840.20" y1="489.40" x2="1033.80" y2="489.40" stroke="#EBEBEB" stroke-width="1.35"/>
<line x1="848.60" y1="341.35" x2="848.60" y2="505.85" stroke="#EBEBEB" stroke-width="1.35"/>
<line x1="887.60" y1="341.35" x2="887.60" y2="505.85" stroke="#EBEBEB" stroke-width="1.35"/>
<line x1="926.60" y1="341.35" x2="926.60" y2="505.85" stroke="#EBEBEB" stroke-width="1.35"/>
<line x1="965.60" y1="341.35" x2="965.60" y2="505.85" stroke="#EBEBEB" stroke-width="1.35"/>
<line x1="1004.60" y1="341.35" x2="1004.60" y2="505.85" stroke="#EBEBEB" stroke-width="1.35"/>
<line x1="840.20" y1="378.65" x2="1033.80" y2="378.65" stroke="#EBEBEB" stroke-width="2.7"/>
<line x1="840.20" y1="422.95" x2="1033.80" y2="422.95" stroke="#EBEBEB" stroke-width="2.7"/>
<line x1="840.20" y1="467.25" x2="1033.80" y2="467.25" stroke="#EBEBEB" stroke-width="2.7"/>
<line x1="868.10" y1="341.35" x2="868.10" y2="505.85" stroke="#EBEBEB" stroke-width="2.7"/>
<line x1="907.10" y1="341.35" x2="907.10" y2="505.85" stroke="#EBEBEB" stroke-width="2.7"/>
<line x1="946.10" y1="341.35" x2="946.10" y2="505.85" stroke="#EBEBEB" stroke-width="2.7"/>
<line x1="985.10" y1="341.35" x2="985.10" y2="505.85" stroke="#EBEBEB" stroke-width="2.7"/>
<line x1="1024.10" y1="341.35" x2="1024.10" y2="505.85" stroke="#EBEBEB" stroke-width="2.7"/>
<text x="845.25" y="535.85" font-size="24.80" textLength="45.15" lengthAdjust="spacingAndGlyphs" fill="#4D4D4D">-1.0</text>
<text x="884.26" y="535.85" font-size="24.80" textLength="44.71" lengthAdjust="spacingAndGlyphs" fill="#4D4D4D">-0.5</text>
<text x="928.02" y="535.85" font-size="24.80" textLength="36.15" lengthAdjust="spacingAndGlyphs" fill="#4D4D4D">0.0</text>
<text x="967.03" y="535.85" font-size="24.80" textLength="35.71" lengthAdjust="spacingAndGlyphs" fill="#4D4D4D">0.5</text>
<text x="1006.09" y="535.85" font-size="24.80" textLength="36.08" lengthAdjust="spacingAndGlyphs" fill="#4D4D4D">1.0</text>
<text x="813.17" y="387.55" font-size="24.80" textLength="13.22" lengthAdjust="spacingAndGlyphs" fill="#4D4D4D">2</text>
<text x="812.45" y="431.85" font-size="24.80" textLength="13.72" lengthAdjust="spacingAndGlyphs" fill="#4D4D4D">0</text>
<text x="804.24" y="476.15" font-size="24.80" textLength="22.21" lengthAdjust="spacingAndGlyphs" fill="#4D4D4D">-2</text>
<text x="867.82" y="567.65" font-size="30.20" textLength="138.34" lengthAdjust="spacingAndGlyphs" fill="#000">Residuals</text>
<line x1="1099.40" y1="356.50" x2="1293.00" y2="356.50" stroke="#EBEBEB" stroke-width="1.35"/>
<line x1="1099.40" y1="400.80" x2="1293.00" y2="400.80" stroke="#EBEBEB" stroke-width="1.35"/>
<line x1="1099.40" y1="445.10" x2="1293.00" y2="445.10" stroke="#EBEBEB" stroke-width="1.35"/>
<line x1="1099.40" y1="489.40" x2="1293.00" y2="489.40" stroke="#EBEBEB" stroke-width="1.35"/>
<line x1="1128.79" y1="341.35" x2="1128.79" y2="505.85" stroke="#EBEBEB" stroke-width="1.35"/>
<line x1="1173.27" y1="341.35" x2="1173.27" y2="505.85" stroke="#EBEBEB" stroke-width="1.35"/>
<line x1="1217.75" y1="341.35" x2="1217.75" y2="505.85" stroke="#EBEBEB" stroke-width="1.35"/>
<line x1="1262.23" y1="341.35" x2="1262.23" y2="505.85" stroke="#EBEBEB" stroke-width="1.35"/>
<line x1="1099.40" y1="378.65" x2="1293.00" y2="378.65" stroke="#EBEBEB" stroke-width="2.7"/>
<line x1="1099.40" y1="422.95" x2="1293.00" y2="422.95" stroke="#EBEBEB" stroke-width="2.7"/>
<line x1="1099.40" y1="467.25" x2="1293.00" y2="467.25" stroke="#EBEBEB" stroke-width="2.7"/>
<line x1="1106.55" y1="341.35" x2="1106.55" y2="505.85" stroke="#EBEBEB" stroke-width="2.7"/>
<line x1="1151.03" y1="341.35" x2="1151.03" y2="505.85" stroke="#EBEBEB" stroke-width="2.7"/>
<line x1="1195.51" y1="341.35" x2="1195.51" y2="505.85" stroke="#EBEBEB" stroke-width="2.7"/>
<line x1="1239.99" y1="341.35" x2="1239.99" y2="505.85" stroke="#EBEBEB" stroke-width="2.7"/>
<line x1="1284.47" y1="341.35" x2="1284.47" y2="505.85" stroke="#EBEBEB" stroke-width="2.7"/>
<text x="1099.69" y="535.85" font-size="24.80" textLength="13.72" lengthAdjust="spacingAndGlyphs" fill="#4D4D4D">0</text>
<text x="1136.57" y="535.85" font-size="24.80" textLength="28.37" lengthAdjust="spacingAndGlyphs" fill="#4D4D4D">25</text>
<text x="1181.40" y="535.85" font-size="24.80" textLength="28.44" lengthAdjust="spacingAndGlyphs" fill="#4D4D4D">50</text>
<text x="1225.72" y="535.85" font-size="24.80" textLength="28.17" lengthAdjust="spacingAndGlyphs" fill="#4D4D4D">75</text>
<text x="1262.72" y="535.85" font-size="24.80" textLength="43.55" lengthAdjust="spacingAndGlyphs" fill="#4D4D4D">100</text>
<text x="1072.37" y="387.55" font-size="24.80" textLength="13.22" lengthAdjust="spacingAndGlyphs" fill="#4D4D4D">2</text>
<text x="1071.65" y="431.85" font-size="24.80" textLength="13.72" lengthAdjust="spacingAndGlyphs" fill="#4D4D4D">0</text>
<text x="1063.44" y="476.15" font-size="24.80" textLength="22.21" lengthAdjust="spacingAndGlyphs" fill="#4D4D4D">-2</text>
<text x="1159.45" y="567.65" font-size="30.20" textLength="72.59" lengthAdjust="spacingAndGlyphs" fill="#000">Time</text>
<g transform="translate(54.90,423.60) rotate(-90)">
<text x="-19.62" y="0.00" font-size="31.50" textLength="38.00" lengthAdjust="spacingAndGlyphs" fill="#000">X2</text>
</g>
<g transform="translate(790.90,423.60) rotate(-90)">
<text x="-79.97" y="0.00" font-size="30.20" textLength="159.88" lengthAdjust="spacingAndGlyphs" fill="#000">Predictions</text>
</g>
<g clip-path="url(#p11)">
<polyline points="118.21,436.46 119.99,422.29 121.77,443.77 123.55,419.41 125.33,437.57 127.11,383.52 128.88,407.22 130.66,403.01 132.44,415.20 134.22,385.07 136.00,438.90 137.78,433.14 139.56,390.83 141.34,438.23 143.12,424.28 144.90,431.15 146.68,430.48 148.46,430.48 150.23,411.88 152.01,427.16 153.79,434.69 155.57,392.83 157.35,415.86 159.13,427.60 160.91,418.74 162.69,407.00 164.47,425.16 166.25,423.61 168.03,438.23 169.81,428.71 171.59,421.40 173.36,436.02 175.14,410.99 176.92,457.28 178.70,416.08 180.48,457.50 182.26,429.15 184.04,432.03 185.82,438.01 187.60,423.84 189.38,465.70 191.16,396.59 192.94,460.16 194.71,433.14 196.49,436.02 198.27,440.01 200.05,376.44 201.83,407.89 203.61,442.44 205.39,459.94 207.17,412.76 208.95,425.39 210.73,437.79 212.51,417.19 214.29,454.62 216.07,434.25 217.84,400.80 219.62,409.00 221.40,453.74 223.18,381.31 224.96,409.00 226.74,428.71 228.52,399.25 230.30,422.06 232.08,437.35 233.86,374.22 235.64,418.52 237.42,453.74 239.19,426.27 240.97,422.51 242.75,370.90 244.53,421.40 246.31,402.35 248.09,417.41 249.87,429.15 251.65,423.61 253.43,407.67 255.21,377.32 256.99,399.91 258.77,396.37 260.55,450.42 262.32,400.58 264.10,415.42 265.88,455.73 267.66,411.43 269.44,426.27 271.22,390.39 273.00,440.01 274.78,420.74 276.56,434.69 278.34,409.00 280.12,414.09 281.90,439.34 283.67,403.46 285.45,449.97 287.23,445.99 289.01,391.05 290.79,445.99 292.57,413.87 294.35,431.15" fill="none" stroke="#000" stroke-width="2.1" stroke-linejoin="round" stroke-linecap="butt" />
<polyline points="118.21,429.15 119.99,409.44 121.77,447.76 123.55,422.29 125.33,440.45 127.11,386.18 128.88,409.66 130.66,405.23 132.44,405.45 134.22,389.50 136.00,440.23 137.78,430.04 139.56,383.30 141.34,443.33 143.12,427.38 144.90,429.82 146.68,423.61 148.46,431.15 150.23,421.18 152.01,415.86 153.79,424.72 155.57,397.26 157.35,416.31 159.13,439.12 160.91,418.52 162.69,396.15 164.47,436.02 166.25,429.82 168.03,442.66 169.81,432.92 171.59,434.91 173.36,432.70 175.14,421.18 176.92,457.50 178.70,411.88 180.48,458.83 182.26,423.17 184.04,431.81 185.82,442.22 187.60,419.41 189.38,468.58 191.16,384.63 192.94,460.38 194.71,427.38 196.49,434.02 198.27,459.94 200.05,385.30 201.83,411.88 203.61,440.67 205.39,475.45 207.17,406.12 208.95,429.59 210.73,442.88 212.51,427.38 214.29,464.37 216.07,434.02 217.84,397.26 219.62,422.95 221.40,461.05 223.18,377.76 224.96,411.88 226.74,414.09 228.52,390.83 230.30,418.52 232.08,437.35 233.86,372.23 235.64,422.95 237.42,450.64 239.19,416.31 240.97,415.20 242.75,377.10 244.53,432.25 246.31,403.01 248.09,413.87 249.87,419.85 251.65,432.47 253.43,405.23 255.21,375.33 256.99,391.72 258.77,396.59 260.55,452.63 262.32,408.33 264.10,418.52 265.88,458.17 267.66,395.71 269.44,410.10 271.22,391.72 273.00,447.54 274.78,434.02 276.56,431.15 278.34,416.31 280.12,398.58 281.90,445.32 283.67,403.68 285.45,425.39 287.23,453.30 289.01,388.84 290.79,453.30 292.57,411.43 294.35,436.68" fill="none" stroke="#EC7C02" stroke-width="2.1" stroke-linejoin="round" stroke-linecap="butt" />
</g>
<g clip-path="url(#p21)">
<polyline points="477.68,437.18 479.46,453.75 481.24,403.37 483.02,406.68 484.80,406.68 486.58,407.34 488.35,408.01 490.13,408.67 491.91,444.47 493.69,402.04 495.47,411.32 497.25,424.58 499.03,437.84 500.81,400.05 502.59,406.02 504.37,419.28 506.15,435.85 507.93,413.31 509.70,387.45 511.48,449.11 513.26,445.13 515.04,402.04 516.82,413.97 518.60,380.82 520.38,415.96 522.16,447.79 523.94,382.81 525.72,396.74 527.50,402.04 529.28,402.70 531.06,374.86 532.83,425.25 534.61,384.80 536.39,414.64 538.17,427.90 539.95,411.32 541.73,433.20 543.51,415.96 545.29,402.70 547.07,428.56 548.85,406.68 550.63,451.10 552.41,414.64 554.18,432.54 555.96,421.27 557.74,355.63 559.52,388.78 561.30,403.37 563.08,420.60 564.86,368.89 566.64,435.19 568.42,402.70 570.20,400.05 571.98,384.80 573.76,386.13 575.54,415.96 577.31,425.91 579.09,373.53 580.87,393.42 582.65,425.91 584.43,406.68 586.21,459.06 587.99,440.49 589.77,425.91 591.55,415.30 593.33,421.27 595.11,402.04 596.89,424.58 598.66,445.13 600.44,437.18 602.22,396.74 604.00,382.81 605.78,413.31 607.56,425.91 609.34,443.15 611.12,388.78 612.90,422.59 614.68,421.27 616.46,439.83 618.24,414.64 620.02,408.67 621.79,392.10 623.57,406.02 625.35,408.01 627.13,462.37 628.91,463.70 630.69,411.32 632.47,392.76 634.25,375.52 636.03,425.91 637.81,393.42 639.59,461.71 641.37,397.40 643.14,414.64 644.92,488.89 646.70,393.42 648.48,421.93 650.26,393.42 652.04,422.59 653.82,398.73" fill="none" stroke="#000" stroke-width="2.0" stroke-linejoin="round" stroke-linecap="butt" />
</g>
<g clip-path="url(#p31)">
<circle cx="920.36" cy="429.15" r="2.95" fill="rgba(0,0,0,0.43)" stroke="rgba(0,0,0,0.43)" stroke-width="1.4"/>
<circle cx="900.86" cy="409.44" r="2.95" fill="rgba(0,0,0,0.43)" stroke="rgba(0,0,0,0.43)" stroke-width="1.4"/>
<circle cx="960.14" cy="447.76" r="2.95" fill="rgba(0,0,0,0.43)" stroke="rgba(0,0,0,0.43)" stroke-width="1.4"/>
<circle cx="956.24" cy="422.29" r="2.95" fill="rgba(0,0,0,0.43)" stroke="rgba(0,0,0,0.43)" stroke-width="1.4"/>
<circle cx="956.24" cy="440.45" r="2.95" fill="rgba(0,0,0,0.43)" stroke="rgba(0,0,0,0.43)" stroke-width="1.4"/>
<circle cx="955.46" cy="386.18" r="2.95" fill="rgba(0,0,0,0.43)" stroke="rgba(0,0,0,0.43)" stroke-width="1.4"/>
<circle cx="954.68" cy="409.66" r="2.95" fill="rgba(0,0,0,0.43)" stroke="rgba(0,0,0,0.43)" stroke-width="1.4"/>
<circle cx="953.90" cy="405.23" r="2.95" fill="rgba(0,0,0,0.43)" stroke="rgba(0,0,0,0.43)" stroke-width="1.4"/>
<circle cx="911.78" cy="405.45" r="2.95" fill="rgba(0,0,0,0.43)" stroke="rgba(0,0,0,0.43)" stroke-width="1.4"/>
<circle cx="961.70" cy="389.50" r="2.95" fill="rgba(0,0,0,0.43)" stroke="rgba(0,0,0,0.43)" stroke-width="1.4"/>
<circle cx="950.78" cy="440.23" r="2.95" fill="rgba(0,0,0,0.43)" stroke="rgba(0,0,0,0.43)" stroke-width="1.4"/>
<circle cx="935.18" cy="430.04" r="2.95" fill="rgba(0,0,0,0.43)" stroke="rgba(0,0,0,0.43)" stroke-width="1.4"/>
<circle cx="919.58" cy="383.30" r="2.95" fill="rgba(0,0,0,0.43)" stroke="rgba(0,0,0,0.43)" stroke-width="1.4"/>
<circle cx="964.04" cy="443.33" r="2.95" fill="rgba(0,0,0,0.43)" stroke="rgba(0,0,0,0.43)" stroke-width="1.4"/>
<circle cx="957.02" cy="427.38" r="2.95" fill="rgba(0,0,0,0.43)" stroke="rgba(0,0,0,0.43)" stroke-width="1.4"/>
<circle cx="941.42" cy="429.82" r="2.95" fill="rgba(0,0,0,0.43)" stroke="rgba(0,0,0,0.43)" stroke-width="1.4"/>
<circle cx="921.92" cy="423.61" r="2.95" fill="rgba(0,0,0,0.43)" stroke="rgba(0,0,0,0.43)" stroke-width="1.4"/>
<circle cx="948.44" cy="431.15" r="2.95" fill="rgba(0,0,0,0.43)" stroke="rgba(0,0,0,0.43)" stroke-width="1.4"/>
<circle cx="978.86" cy="421.18" r="2.95" fill="rgba(0,0,0,0.43)" stroke="rgba(0,0,0,0.43)" stroke-width="1.4"/>
<circle cx="906.32" cy="415.86" r="2.95" fill="rgba(0,0,0,0.43)" stroke="rgba(0,0,0,0.43)" stroke-width="1.4"/>
<circle cx="911.00" cy="424.72" r="2.95" fill="rgba(0,0,0,0.43)" stroke="rgba(0,0,0,0.43)" stroke-width="1.4"/>
<circle cx="961.70" cy="397.26" r="2.95" fill="rgba(0,0,0,0.43)" stroke="rgba(0,0,0,0.43)" stroke-width="1.4"/>
<circle cx="947.66" cy="416.31" r="2.95" fill="rgba(0,0,0,0.43)" stroke="rgba(0,0,0,0.43)" stroke-width="1.4"/>
<circle cx="986.66" cy="439.12" r="2.95" fill="rgba(0,0,0,0.43)" stroke="rgba(0,0,0,0.43)" stroke-width="1.4"/>
<circle cx="945.32" cy="418.52" r="2.95" fill="rgba(0,0,0,0.43)" stroke="rgba(0,0,0,0.43)" stroke-width="1.4"/>
<circle cx="907.88" cy="396.15" r="2.95" fill="rgba(0,0,0,0.43)" stroke="rgba(0,0,0,0.43)" stroke-width="1.4"/>
<circle cx="984.32" cy="436.02" r="2.95" fill="rgba(0,0,0,0.43)" stroke="rgba(0,0,0,0.43)" stroke-width="1.4"/>
<circle cx="967.94" cy="429.82" r="2.95" fill="rgba(0,0,0,0.43)" stroke="rgba(0,0,0,0.43)" stroke-width="1.4"/>
<circle cx="961.70" cy="442.66" r="2.95" fill="rgba(0,0,0,0.43)" stroke="rgba(0,0,0,0.43)" stroke-width="1.4"/>
<circle cx="960.92" cy="432.92" r="2.95" fill="rgba(0,0,0,0.43)" stroke="rgba(0,0,0,0.43)" stroke-width="1.4"/>
<circle cx="993.68" cy="434.91" r="2.95" fill="rgba(0,0,0,0.43)" stroke="rgba(0,0,0,0.43)" stroke-width="1.4"/>
<circle cx="934.40" cy="432.70" r="2.95" fill="rgba(0,0,0,0.43)" stroke="rgba(0,0,0,0.43)" stroke-width="1.4"/>
<circle cx="981.98" cy="421.18" r="2.95" fill="rgba(0,0,0,0.43)" stroke="rgba(0,0,0,0.43)" stroke-width="1.4"/>
<circle cx="946.88" cy="457.50" r="2.95" fill="rgba(0,0,0,0.43)" stroke="rgba(0,0,0,0.43)" stroke-width="1.4"/>
<circle cx="931.28" cy="411.88" r="2.95" fill="rgba(0,0,0,0.43)" stroke="rgba(0,0,0,0.43)" stroke-width="1.4"/>
<circle cx="950.78" cy="458.83" r="2.95" fill="rgba(0,0,0,0.43)" stroke="rgba(0,0,0,0.43)" stroke-width="1.4"/>
<circle cx="925.04" cy="423.17" r="2.95" fill="rgba(0,0,0,0.43)" stroke="rgba(0,0,0,0.43)" stroke-width="1.4"/>
<circle cx="945.32" cy="431.81" r="2.95" fill="rgba(0,0,0,0.43)" stroke="rgba(0,0,0,0.43)" stroke-width="1.4"/>
<circle cx="960.92" cy="442.22" r="2.95" fill="rgba(0,0,0,0.43)" stroke="rgba(0,0,0,0.43)" stroke-width="1.4"/>
<circle cx="930.50" cy="419.41" r="2.95" fill="rgba(0,0,0,0.43)" stroke="rgba(0,0,0,0.43)" stroke-width="1.4"/>
<circle cx="956.24" cy="468.58" r="2.95" fill="rgba(0,0,0,0.43)" stroke="rgba(0,0,0,0.43)" stroke-width="1.4"/>
<circle cx="903.98" cy="384.63" r="2.95" fill="rgba(0,0,0,0.43)" stroke="rgba(0,0,0,0.43)" stroke-width="1.4"/>
<circle cx="946.88" cy="460.38" r="2.95" fill="rgba(0,0,0,0.43)" stroke="rgba(0,0,0,0.43)" stroke-width="1.4"/>
<circle cx="925.82" cy="427.38" r="2.95" fill="rgba(0,0,0,0.43)" stroke="rgba(0,0,0,0.43)" stroke-width="1.4"/>
<circle cx="939.08" cy="434.02" r="2.95" fill="rgba(0,0,0,0.43)" stroke="rgba(0,0,0,0.43)" stroke-width="1.4"/>
<circle cx="1016.30" cy="459.94" r="2.95" fill="rgba(0,0,0,0.43)" stroke="rgba(0,0,0,0.43)" stroke-width="1.4"/>
<circle cx="977.30" cy="385.30" r="2.95" fill="rgba(0,0,0,0.43)" stroke="rgba(0,0,0,0.43)" stroke-width="1.4"/>
<circle cx="960.14" cy="411.88" r="2.95" fill="rgba(0,0,0,0.43)" stroke="rgba(0,0,0,0.43)" stroke-width="1.4"/>
<circle cx="939.86" cy="440.67" r="2.95" fill="rgba(0,0,0,0.43)" stroke="rgba(0,0,0,0.43)" stroke-width="1.4"/>
<circle cx="1000.70" cy="475.45" r="2.95" fill="rgba(0,0,0,0.43)" stroke="rgba(0,0,0,0.43)" stroke-width="1.4"/>
<circle cx="922.70" cy="406.12" r="2.95" fill="rgba(0,0,0,0.43)" stroke="rgba(0,0,0,0.43)" stroke-width="1.4"/>
<circle cx="960.92" cy="429.59" r="2.95" fill="rgba(0,0,0,0.43)" stroke="rgba(0,0,0,0.43)" stroke-width="1.4"/>
<circle cx="964.04" cy="442.88" r="2.95" fill="rgba(0,0,0,0.43)" stroke="rgba(0,0,0,0.43)" stroke-width="1.4"/>
<circle cx="981.98" cy="427.38" r="2.95" fill="rgba(0,0,0,0.43)" stroke="rgba(0,0,0,0.43)" stroke-width="1.4"/>
<circle cx="980.42" cy="464.37" r="2.95" fill="rgba(0,0,0,0.43)" stroke="rgba(0,0,0,0.43)" stroke-width="1.4"/>
<circle cx="945.32" cy="434.02" r="2.95" fill="rgba(0,0,0,0.43)" stroke="rgba(0,0,0,0.43)" stroke-width="1.4"/>
<circle cx="933.62" cy="397.26" r="2.95" fill="rgba(0,0,0,0.43)" stroke="rgba(0,0,0,0.43)" stroke-width="1.4"/>
<circle cx="995.24" cy="422.95" r="2.95" fill="rgba(0,0,0,0.43)" stroke="rgba(0,0,0,0.43)" stroke-width="1.4"/>
<circle cx="971.84" cy="461.05" r="2.95" fill="rgba(0,0,0,0.43)" stroke="rgba(0,0,0,0.43)" stroke-width="1.4"/>
<circle cx="933.62" cy="377.76" r="2.95" fill="rgba(0,0,0,0.43)" stroke="rgba(0,0,0,0.43)" stroke-width="1.4"/>
<circle cx="956.24" cy="411.88" r="2.95" fill="rgba(0,0,0,0.43)" stroke="rgba(0,0,0,0.43)" stroke-width="1.4"/>
<circle cx="894.62" cy="414.09" r="2.95" fill="rgba(0,0,0,0.43)" stroke="rgba(0,0,0,0.43)" stroke-width="1.4"/>
<circle cx="916.46" cy="390.83" r="2.95" fill="rgba(0,0,0,0.43)" stroke="rgba(0,0,0,0.43)" stroke-width="1.4"/>
<circle cx="933.62" cy="418.52" r="2.95" fill="rgba(0,0,0,0.43)" stroke="rgba(0,0,0,0.43)" stroke-width="1.4"/>
<circle cx="946.10" cy="437.35" r="2.95" fill="rgba(0,0,0,0.43)" stroke="rgba(0,0,0,0.43)" stroke-width="1.4"/>
<circle cx="939.08" cy="372.23" r="2.95" fill="rgba(0,0,0,0.43)" stroke="rgba(0,0,0,0.43)" stroke-width="1.4"/>
<circle cx="961.70" cy="422.95" r="2.95" fill="rgba(0,0,0,0.43)" stroke="rgba(0,0,0,0.43)" stroke-width="1.4"/>
<circle cx="935.18" cy="450.64" r="2.95" fill="rgba(0,0,0,0.43)" stroke="rgba(0,0,0,0.43)" stroke-width="1.4"/>
<circle cx="911.00" cy="416.31" r="2.95" fill="rgba(0,0,0,0.43)" stroke="rgba(0,0,0,0.43)" stroke-width="1.4"/>
<circle cx="920.36" cy="415.20" r="2.95" fill="rgba(0,0,0,0.43)" stroke="rgba(0,0,0,0.43)" stroke-width="1.4"/>
<circle cx="967.94" cy="377.10" r="2.95" fill="rgba(0,0,0,0.43)" stroke="rgba(0,0,0,0.43)" stroke-width="1.4"/>
<circle cx="984.32" cy="432.25" r="2.95" fill="rgba(0,0,0,0.43)" stroke="rgba(0,0,0,0.43)" stroke-width="1.4"/>
<circle cx="948.44" cy="403.01" r="2.95" fill="rgba(0,0,0,0.43)" stroke="rgba(0,0,0,0.43)" stroke-width="1.4"/>
<circle cx="933.62" cy="413.87" r="2.95" fill="rgba(0,0,0,0.43)" stroke="rgba(0,0,0,0.43)" stroke-width="1.4"/>
<circle cx="913.34" cy="419.85" r="2.95" fill="rgba(0,0,0,0.43)" stroke="rgba(0,0,0,0.43)" stroke-width="1.4"/>
<circle cx="977.30" cy="432.47" r="2.95" fill="rgba(0,0,0,0.43)" stroke="rgba(0,0,0,0.43)" stroke-width="1.4"/>
<circle cx="937.52" cy="405.23" r="2.95" fill="rgba(0,0,0,0.43)" stroke="rgba(0,0,0,0.43)" stroke-width="1.4"/>
<circle cx="939.08" cy="375.33" r="2.95" fill="rgba(0,0,0,0.43)" stroke="rgba(0,0,0,0.43)" stroke-width="1.4"/>
<circle cx="917.24" cy="391.72" r="2.95" fill="rgba(0,0,0,0.43)" stroke="rgba(0,0,0,0.43)" stroke-width="1.4"/>
<circle cx="946.88" cy="396.59" r="2.95" fill="rgba(0,0,0,0.43)" stroke="rgba(0,0,0,0.43)" stroke-width="1.4"/>
<circle cx="953.90" cy="452.63" r="2.95" fill="rgba(0,0,0,0.43)" stroke="rgba(0,0,0,0.43)" stroke-width="1.4"/>
<circle cx="973.40" cy="408.33" r="2.95" fill="rgba(0,0,0,0.43)" stroke="rgba(0,0,0,0.43)" stroke-width="1.4"/>
<circle cx="957.02" cy="418.52" r="2.95" fill="rgba(0,0,0,0.43)" stroke="rgba(0,0,0,0.43)" stroke-width="1.4"/>
<circle cx="954.68" cy="458.17" r="2.95" fill="rgba(0,0,0,0.43)" stroke="rgba(0,0,0,0.43)" stroke-width="1.4"/>
<circle cx="890.72" cy="395.71" r="2.95" fill="rgba(0,0,0,0.43)" stroke="rgba(0,0,0,0.43)" stroke-width="1.4"/>
<circle cx="889.16" cy="410.10" r="2.95" fill="rgba(0,0,0,0.43)" stroke="rgba(0,0,0,0.43)" stroke-width="1.4"/>
<circle cx="950.78" cy="391.72" r="2.95" fill="rgba(0,0,0,0.43)" stroke="rgba(0,0,0,0.43)" stroke-width="1.4"/>
<circle cx="972.62" cy="447.54" r="2.95" fill="rgba(0,0,0,0.43)" stroke="rgba(0,0,0,0.43)" stroke-width="1.4"/>
<circle cx="992.90" cy="434.02" r="2.95" fill="rgba(0,0,0,0.43)" stroke="rgba(0,0,0,0.43)" stroke-width="1.4"/>
<circle cx="933.62" cy="431.15" r="2.95" fill="rgba(0,0,0,0.43)" stroke="rgba(0,0,0,0.43)" stroke-width="1.4"/>
<circle cx="971.84" cy="416.31" r="2.95" fill="rgba(0,0,0,0.43)" stroke="rgba(0,0,0,0.43)" stroke-width="1.4"/>
<circle cx="891.50" cy="398.58" r="2.95" fill="rgba(0,0,0,0.43)" stroke="rgba(0,0,0,0.43)" stroke-width="1.4"/>
<circle cx="967.16" cy="445.32" r="2.95" fill="rgba(0,0,0,0.43)" stroke="rgba(0,0,0,0.43)" stroke-width="1.4"/>
<circle cx="946.88" cy="403.68" r="2.95" fill="rgba(0,0,0,0.43)" stroke="rgba(0,0,0,0.43)" stroke-width="1.4"/>
<circle cx="859.52" cy="425.39" r="2.95" fill="rgba(0,0,0,0.43)" stroke="rgba(0,0,0,0.43)" stroke-width="1.4"/>
<circle cx="971.84" cy="453.30" r="2.95" fill="rgba(0,0,0,0.43)" stroke="rgba(0,0,0,0.43)" stroke-width="1.4"/>
<circle cx="938.30" cy="388.84" r="2.95" fill="rgba(0,0,0,0.43)" stroke="rgba(0,0,0,0.43)" stroke-width="1.4"/>
<circle cx="971.84" cy="453.30" r="2.95" fill="rgba(0,0,0,0.43)" stroke="rgba(0,0,0,0.43)" stroke-width="1.4"/>
<circle cx="937.52" cy="411.43" r="2.95" fill="rgba(0,0,0,0.43)" stroke="rgba(0,0,0,0.43)" stroke-width="1.4"/>
<circle cx="965.60" cy="436.68" r="2.95" fill="rgba(0,0,0,0.43)" stroke="rgba(0,0,0,0.43)" stroke-width="1.4"/>
</g>
<g clip-path="url(#p41)">
<polyline points="1108.33,438.01 1110.11,378.87 1111.89,425.39 1113.67,424.50 1115.45,447.98 1117.23,453.07 1119.00,456.84 1120.78,433.58 1122.56,392.38 1124.34,383.97 1126.12,388.62 1127.90,394.60 1129.68,426.05 1131.46,450.19 1133.24,430.70 1135.02,476.33 1136.80,432.03 1138.58,386.40 1140.35,420.07 1142.13,398.36 1143.91,409.66 1145.69,440.45 1147.47,383.97 1149.25,421.62 1151.03,444.88 1152.81,421.62 1154.59,456.84 1156.37,403.68 1158.15,409.66 1159.93,431.37 1161.71,433.58 1163.48,402.13 1165.26,446.43 1167.04,444.88 1168.82,413.43 1170.60,432.92 1172.38,402.13 1174.16,427.60 1175.94,396.81 1177.72,409.66 1179.50,472.57 1181.28,453.96 1183.06,394.60 1184.83,409.66 1186.61,444.21 1188.39,453.07 1190.17,399.91 1191.95,441.11 1193.73,383.30 1195.51,383.74 1197.29,454.62 1199.07,441.78 1200.85,450.19 1202.63,408.11 1204.41,444.21 1206.19,468.14 1207.96,377.99 1209.74,400.58 1211.52,405.01 1213.30,438.01 1215.08,423.17 1216.86,409.66 1218.64,450.86 1220.42,426.05 1222.20,420.07 1223.98,385.52 1225.76,408.11 1227.54,394.60 1229.31,421.62 1231.09,447.98 1232.87,430.70 1234.65,459.94 1236.43,402.13 1238.21,391.50 1239.99,420.07 1241.77,444.88 1243.55,399.03 1245.33,415.64 1247.11,431.37 1248.89,398.36 1250.67,439.56 1252.44,397.48 1254.22,441.78 1256.00,414.09 1257.78,403.68 1259.56,452.41 1261.34,414.75 1263.12,425.39 1264.90,408.11 1266.68,440.45 1268.46,420.07 1270.24,392.38 1272.02,418.52 1273.79,405.01 1275.57,426.05 1277.35,445.54 1279.13,423.84 1280.91,448.64 1282.69,480.10 1284.47,397.48" fill="none" stroke="#000" stroke-width="2.0" stroke-linejoin="round" stroke-linecap="butt" />
</g>
<line x1="109.00" y1="618.80" x2="302.60" y2="618.80" stroke="#EBEBEB" stroke-width="1.35"/>
<line x1="109.00" y1="663.10" x2="302.60" y2="663.10" stroke="#EBEBEB" stroke-width="1.35"/>
<line x1="109.00" y1="707.40" x2="302.60" y2="707.40" stroke="#EBEBEB" stroke-width="1.35"/>
<line x1="109.00" y1="751.70" x2="302.60" y2="751.70" stroke="#EBEBEB" stroke-width="1.35"/>
<line x1="138.67" y1="603.60" x2="138.67" y2="768.10" stroke="#EBEBEB" stroke-width="1.35"/>
<line x1="183.15" y1="603.60" x2="183.15" y2="768.10" stroke="#EBEBEB" stroke-width="1.35"/>
<line x1="227.63" y1="603.60" x2="227.63" y2="768.10" stroke="#EBEBEB" stroke-width="1.35"/>
<line x1="272.11" y1="603.60" x2="272.11" y2="768.10" stroke="#EBEBEB" stroke-width="1.35"/>
<line x1="109.00" y1="640.95" x2="302.60" y2="640.95" stroke="#EBEBEB" stroke-width="2.7"/>
<line x1="109.00" y1="685.25" x2="302.60" y2="685.25" stroke="#EBEBEB" stroke-width="2.7"/>
<line x1="109.00" y1="729.55" x2="302.60" y2="729.55" stroke="#EBEBEB" stroke-width="2.7"/>
<line x1="116.43" y1="603.60" x2="116.43" y2="768.10" stroke="#EBEBEB" stroke-width="2.7"/>
<line x1="160.91" y1="603.60" x2="160.91" y2="768.10" stroke="#EBEBEB" stroke-width="2.7"/>
<line x1="205.39" y1="603.60" x2="205.39" y2="768.10" stroke="#EBEBEB" stroke-width="2.7"/>
<line x1="249.87" y1="603.60" x2="249.87" y2="768.10" stroke="#EBEBEB" stroke-width="2.7"/>
<line x1="294.35" y1="603.60" x2="294.35" y2="768.10" stroke="#EBEBEB" stroke-width="2.7"/>
<text x="109.57" y="798.10" font-size="24.80" textLength="13.72" lengthAdjust="spacingAndGlyphs" fill="#4D4D4D">0</text>
<text x="146.45" y="798.10" font-size="24.80" textLength="28.37" lengthAdjust="spacingAndGlyphs" fill="#4D4D4D">25</text>
<text x="191.28" y="798.10" font-size="24.80" textLength="28.44" lengthAdjust="spacingAndGlyphs" fill="#4D4D4D">50</text>
<text x="235.60" y="798.10" font-size="24.80" textLength="28.17" lengthAdjust="spacingAndGlyphs" fill="#4D4D4D">75</text>
<text x="272.60" y="798.10" font-size="24.80" textLength="43.55" lengthAdjust="spacingAndGlyphs" fill="#4D4D4D">100</text>
<text x="81.97" y="649.85" font-size="24.80" textLength="13.22" lengthAdjust="spacingAndGlyphs" fill="#4D4D4D">2</text>
<text x="81.25" y="694.15" font-size="24.80" textLength="13.72" lengthAdjust="spacingAndGlyphs" fill="#4D4D4D">0</text>
<text x="73.04" y="738.45" font-size="24.80" textLength="22.21" lengthAdjust="spacingAndGlyphs" fill="#4D4D4D">-2</text>
<text x="169.05" y="829.90" font-size="30.20" textLength="72.59" lengthAdjust="spacingAndGlyphs" fill="#000">Time</text>
<line x1="468.70" y1="627.88" x2="662.30" y2="627.88" stroke="#EBEBEB" stroke-width="1.35"/>
<line x1="468.70" y1="661.02" x2="662.30" y2="661.02" stroke="#EBEBEB" stroke-width="1.35"/>
<line x1="468.70" y1="694.18" x2="662.30" y2="694.18" stroke="#EBEBEB" stroke-width="1.35"/>
<line x1="468.70" y1="727.33" x2="662.30" y2="727.33" stroke="#EBEBEB" stroke-width="1.35"/>
<line x1="468.70" y1="760.48" x2="662.30" y2="760.48" stroke="#EBEBEB" stroke-width="1.35"/>
<line x1="498.14" y1="603.60" x2="498.14" y2="768.10" stroke="#EBEBEB" stroke-width="1.35"/>
<line x1="542.62" y1="603.60" x2="542.62" y2="768.10" stroke="#EBEBEB" stroke-width="1.35"/>
<line x1="587.10" y1="603.60" x2="587.10" y2="768.10" stroke="#EBEBEB" stroke-width="1.35"/>
<line x1="631.58" y1="603.60" x2="631.58" y2="768.10" stroke="#EBEBEB" stroke-width="1.35"/>
<line x1="468.70" y1="611.30" x2="662.30" y2="611.30" stroke="#EBEBEB" stroke-width="2.7"/>
<line x1="468.70" y1="644.45" x2="662.30" y2="644.45" stroke="#EBEBEB" stroke-width="2.7"/>
<line x1="468.70" y1="677.60" x2="662.30" y2="677.60" stroke="#EBEBEB" stroke-width="2.7"/>
<line x1="468.70" y1="710.75" x2="662.30" y2="710.75" stroke="#EBEBEB" stroke-width="2.7"/>
<line x1="468.70" y1="743.90" x2="662.30" y2="743.90" stroke="#EBEBEB" stroke-width="2.7"/>
<line x1="475.90" y1="603.60" x2="475.90" y2="768.10" stroke="#EBEBEB" stroke-width="2.7"/>
<line x1="520.38" y1="603.60" x2="520.38" y2="768.10" stroke="#EBEBEB" stroke-width="2.7"/>
<line x1="564.86" y1="603.60" x2="564.86" y2="768.10" stroke="#EBEBEB" stroke-width="2.7"/>
<line x1="609.34" y1="603.60" x2="609.34" y2="768.10" stroke="#EBEBEB" stroke-width="2.7"/>
<line x1="653.82" y1="603.60" x2="653.82" y2="768.10" stroke="#EBEBEB" stroke-width="2.7"/>
<text x="469.04" y="798.10" font-size="24.80" textLength="13.72" lengthAdjust="spacingAndGlyphs" fill="#4D4D4D">0</text>
<text x="505.92" y="798.10" font-size="24.80" textLength="28.37" lengthAdjust="spacingAndGlyphs" fill="#4D4D4D">25</text>
<text x="550.75" y="798.10" font-size="24.80" textLength="28.44" lengthAdjust="spacingAndGlyphs" fill="#4D4D4D">50</text>
<text x="595.07" y="798.10" font-size="24.80" textLength="28.17" lengthAdjust="spacingAndGlyphs" fill="#4D4D4D">75</text>
<text x="632.07" y="798.10" font-size="24.80" textLength="43.55" lengthAdjust="spacingAndGlyphs" fill="#4D4D4D">100</text>
<text x="419.03" y="620.20" font-size="24.80" textLength="36.08" lengthAdjust="spacingAndGlyphs" fill="#4D4D4D">1.0</text>
<text x="419.47" y="653.35" font-size="24.80" textLength="35.71" lengthAdjust="spacingAndGlyphs" fill="#4D4D4D">0.5</text>
<text x="418.97" y="686.50" font-size="24.80" textLength="36.15" lengthAdjust="spacingAndGlyphs" fill="#4D4D4D">0.0</text>
<text x="410.48" y="719.65" font-size="24.80" textLength="44.71" lengthAdjust="spacingAndGlyphs" fill="#4D4D4D">-0.5</text>
<text x="409.97" y="752.80" font-size="24.80" textLength="45.15" lengthAdjust="spacingAndGlyphs" fill="#4D4D4D">-1.0</text>
<text x="528.75" y="829.90" font-size="30.20" textLength="72.59" lengthAdjust="spacingAndGlyphs" fill="#000">Time</text>
<line x1="840.20" y1="618.80" x2="1033.80" y2="618.80" stroke="#EBEBEB" stroke-width="1.35"/>
<line x1="840.20" y1="663.10" x2="1033.80" y2="663.10" stroke="#EBEBEB" stroke-width="1.35"/>
<line x1="840.20" y1="707.40" x2="1033.80" y2="707.40" stroke="#EBEBEB" stroke-width="1.35"/>
<line x1="840.20" y1="751.70" x2="1033.80" y2="751.70" stroke="#EBEBEB" stroke-width="1.35"/>
<line x1="848.60" y1="603.60" x2="848.60" y2="768.10" stroke="#EBEBEB" stroke-width="1.35"/>
<line x1="887.60" y1="603.60" x2="887.60" y2="768.10" stroke="#EBEBEB" stroke-width="1.35"/>
<line x1="926.60" y1="603.60" x2="926.60" y2="768.10" stroke="#EBEBEB" stroke-width="1.35"/>
<line x1="965.60" y1="603.60" x2="965.60" y2="768.10" stroke="#EBEBEB" stroke-width="1.35"/>
<line x1="1004.60" y1="603.60" x2="1004.60" y2="768.10" stroke="#EBEBEB" stroke-width="1.35"/>
<line x1="840.20" y1="640.95" x2="1033.80" y2="640.95" stroke="#EBEBEB" stroke-width="2.7"/>
<line x1="840.20" y1="685.25" x2="1033.80" y2="685.25" stroke="#EBEBEB" stroke-width="2.7"/>
<line x1="840.20" y1="729.55" x2="1033.80" y2="729.55" stroke="#EBEBEB" stroke-width="2.7"/>
<line x1="868.10" y1="603.60" x2="868.10" y2="768.10" stroke="#EBEBEB" stroke-width="2.7"/>
<line x1="907.10" y1="603.60" x2="907.10" y2="768.10" stroke="#EBEBEB" stroke-width="2.7"/>
<line x1="946.10" y1="603.60" x2="946.10" y2="768.10" stroke="#EBEBEB" stroke-width="2.7"/>
<line x1="985.10" y1="603.60" x2="985.10" y2="768.10" stroke="#EBEBEB" stroke-width="2.7"/>
<line x1="1024.10" y1="603.60" x2="1024.10" y2="768.10" stroke="#EBEBEB" stroke-width="2.7"/>
<text x="845.25" y="798.10" font-size="24.80" textLength="45.15" lengthAdjust="spacingAndGlyphs" fill="#4D4D4D">-1.0</text>
<text x="884.26" y="798.10" font-size="24.80" textLength="44.71" lengthAdjust="spacingAndGlyphs" fill="#4D4D4D">-0.5</text>
<text x="928.02" y="798.10" font-size="24.80" textLength="36.15" lengthAdjust="spacingAndGlyphs" fill="#4D4D4D">0.0</text>
<text x="967.03" y="798.10" font-size="24.80" textLength="35.71" lengthAdjust="spacingAndGlyphs" fill="#4D4D4D">0.5</text>
<text x="1006.09" y="798.10" font-size="24.80" textLength="36.08" lengthAdjust="spacingAndGlyphs" fill="#4D4D4D">1.0</text>
<text x="813.17" y="649.85" font-size="24.80" textLength="13.22" lengthAdjust="spacingAndGlyphs" fill="#4D4D4D">2</text>
<text x="812.45" y="694.15" font-size="24.80" textLength="13.72" lengthAdjust="spacingAndGlyphs" fill="#4D4D4D">0</text>
<text x="804.24" y="738.45" font-size="24.80" textLength="22.21" lengthAdjust="spacingAndGlyphs" fill="#4D4D4D">-2</text>
<text x="867.82" y="829.90" font-size="30.20" textLength="138.34" lengthAdjust="spacingAndGlyphs" fill="#000">Residuals</text>
<line x1="1099.40" y1="618.80" x2="1293.00" y2="618.80" stroke="#EBEBEB" stroke-width="1.35"/>
<line x1="1099.40" y1="663.10" x2="1293.00" y2="663.10" stroke="#EBEBEB" stroke-width="1.35"/>
<line x1="1099.40" y1="707.40" x2="1293.00" y2="707.40" stroke="#EBEBEB" stroke-width="1.35"/>
<line x1="1099.40" y1="751.70" x2="1293.00" y2="751.70" stroke="#EBEBEB" stroke-width="1.35"/>
<line x1="1128.79" y1="603.60" x2="1128.79" y2="768.10" stroke="#EBEBEB" stroke-width="1.35"/>
<line x1="1173.27" y1="603.60" x2="1173.27" y2="768.10" stroke="#EBEBEB" stroke-width="1.35"/>
<line x1="1217.75" y1="603.60" x2="1217.75" y2="768.10" stroke="#EBEBEB" stroke-width="1.35"/>
<line x1="1262.23" y1="603.60" x2="1262.23" y2="768.10" stroke="#EBEBEB" stroke-width="1.35"/>
<line x1="1099.40" y1="640.95" x2="1293.00" y2="640.95" stroke="#EBEBEB" stroke-width="2.7"/>
<line x1="1099.40" y1="685.25" x2="1293.00" y2="685.25" stroke="#EBEBEB" stroke-width="2.7"/>
<line x1="1099.40" y1="729.55" x2="1293.00" y2="729.55" stroke="#EBEBEB" stroke-width="2.7"/>
<line x1="1106.55" y1="603.60" x2="1106.55" y2="768.10" stroke="#EBEBEB" stroke-width="2.7"/>
<line x1="1151.03" y1="603.60" x2="1151.03" y2="768.10" stroke="#EBEBEB" stroke-width="2.7"/>
<line x1="1195.51" y1="603.60" x2="1195.51" y2="768.10" stroke="#EBEBEB" stroke-width="2.7"/>
<line x1="1239.99" y1="603.60" x2="1239.99" y2="768.10" stroke="#EBEBEB" stroke-width="2.7"/>
<line x1="1284.47" y1="603.60" x2="1284.47" y2="768.10" stroke="#EBEBEB" stroke-width="2.7"/>
<text x="1099.69" y="798.10" font-size="24.80" textLength="13.72" lengthAdjust="spacingAndGlyphs" fill="#4D4D4D">0</text>
<text x="1136.57" y="798.10" font-size="24.80" textLength="28.37" lengthAdjust="spacingAndGlyphs" fill="#4D4D4D">25</text>
<text x="1181.40" y="798.10" font-size="24.80" textLength="28.44" lengthAdjust="spacingAndGlyphs" fill="#4D4D4D">50</text>
<text x="1225.72" y="798.10" font-size="24.80" textLength="28.17" lengthAdjust="spacingAndGlyphs" fill="#4D4D4D">75</text>
<text x="1262.72" y="798.10" font-size="24.80" textLength="43.55" lengthAdjust="spacingAndGlyphs" fill="#4D4D4D">100</text>
<text x="1072.37" y="649.85" font-size="24.80" textLength="13.22" lengthAdjust="spacingAndGlyphs" fill="#4D4D4D">2</text>
<text x="1071.65" y="694.15" font-size="24.80" textLength="13.72" lengthAdjust="spacingAndGlyphs" fill="#4D4D4D">0</text>
<text x="1063.44" y="738.45" font-size="24.80" textLength="22.21" lengthAdjust="spacingAndGlyphs" fill="#4D4D4D">-2</text>
<text x="1159.45" y="829.90" font-size="30.20" textLength="72.59" lengthAdjust="spacingAndGlyphs" fill="#000">Time</text>
<g transform="translate(54.90,685.85) rotate(-90)">
<text x="-19.63" y="0.00" font-size="31.50" textLength="38.43" lengthAdjust="spacingAndGlyphs" fill="#000">X3</text>
</g>
<g transform="translate(790.90,685.85) rotate(-90)">
<text x="-79.97" y="0.00" font-size="30.20" textLength="159.88" lengthAdjust="spacingAndGlyphs" fill="#000">Predictions</text>
</g>
<g clip-path="url(#p12)">
<polyline points="118.21,676.17 119.99,648.70 121.77,650.25 123.55,690.57 125.33,735.53 127.11,630.10 128.88,669.52 130.66,671.74 132.44,685.69 134.22,673.73 136.00,688.57 137.78,681.26 139.56,692.34 141.34,716.26 143.12,678.16 144.90,651.58 146.68,689.24 148.46,712.49 150.23,671.74 152.01,693.45 153.79,724.01 155.57,685.91 157.35,698.98 159.13,693.00 160.91,711.17 162.69,644.94 164.47,677.72 166.25,722.24 168.03,681.26 169.81,699.87 171.59,712.94 173.36,750.81 175.14,696.77 176.92,672.40 178.70,686.36 180.48,687.91 182.26,672.85 184.04,713.38 185.82,660.44 187.60,685.47 189.38,676.17 191.16,662.66 192.94,688.57 194.71,705.18 196.49,659.33 198.27,728.44 200.05,680.82 201.83,695.66 203.61,688.13 205.39,662.88 207.17,681.26 208.95,679.05 210.73,687.02 212.51,677.72 214.29,670.19 216.07,660.22 217.84,738.19 219.62,672.85 221.40,688.79 223.18,694.33 224.96,663.99 226.74,694.33 228.52,691.67 230.30,674.84 232.08,646.93 233.86,699.43 235.64,683.92 237.42,710.94 239.19,692.56 240.97,704.74 242.75,683.03 244.53,676.39 246.31,702.97 248.09,625.89 249.87,679.49 251.65,660.22 253.43,734.87 255.21,668.86 256.99,710.50 258.77,664.87 260.55,676.39 262.32,694.33 264.10,656.01 265.88,700.31 267.66,681.93 269.44,707.84 271.22,684.36 273.00,664.43 274.78,675.28 276.56,663.10 278.34,693.89 280.12,684.14 281.90,679.71 283.67,716.26 285.45,645.38 287.23,681.26 289.01,684.36 290.79,663.76 292.57,698.10 294.35,691.23" fill="none" stroke="#000" stroke-width="2.1" stroke-linejoin="round" stroke-linecap="butt" />
<polyline points="118.21,675.73 119.99,649.59 121.77,658.01 123.55,691.89 125.33,730.66 127.11,619.24 128.88,678.61 130.66,673.95 132.44,677.72 134.22,678.61 136.00,705.41 137.78,687.47 139.56,698.54 141.34,715.82 143.12,680.82 144.90,649.81 146.68,691.89 148.46,709.84 150.23,673.95 152.01,685.25 153.79,728.89 155.57,683.92 157.35,704.74 159.13,691.67 160.91,711.61 162.69,656.01 164.47,678.61 166.25,714.27 168.03,676.61 169.81,698.54 171.59,720.69 173.36,742.84 175.14,696.33 176.92,675.28 178.70,675.28 180.48,693.00 182.26,670.63 184.04,704.74 185.82,656.68 187.60,687.24 189.38,678.61 191.16,660.00 192.94,685.25 194.71,704.74 196.49,650.47 198.27,729.77 200.05,685.25 201.83,691.89 203.61,702.97 205.39,660.00 207.17,677.94 208.95,680.82 210.73,694.33 212.51,680.82 214.29,659.56 216.07,664.21 217.84,753.91 219.62,667.09 221.40,691.89 223.18,697.65 224.96,671.96 226.74,694.33 228.52,686.80 230.30,678.61 232.08,650.92 233.86,691.89 235.64,685.25 237.42,712.49 239.19,696.55 240.97,698.54 242.75,689.68 244.53,670.63 246.31,697.43 248.09,628.99 249.87,673.73 251.65,653.58 253.43,730.66 255.21,655.35 256.99,723.79 258.77,672.85 260.55,685.25 262.32,693.45 264.10,645.38 265.88,689.02 267.66,678.61 269.44,702.08 271.22,685.25 273.00,661.33 274.78,672.85 276.56,668.19 278.34,695.88 280.12,685.25 281.90,670.41 283.67,723.79 285.45,659.56 287.23,675.95 289.01,689.68 290.79,666.87 292.57,691.89 294.35,695.88" fill="none" stroke="#EC7C02" stroke-width="2.1" stroke-linejoin="round" stroke-linecap="butt" />
</g>
<g clip-path="url(#p22)">
<polyline points="477.68,678.93 479.46,674.95 481.24,654.39 483.02,673.62 484.80,692.19 486.58,710.09 488.35,650.42 490.13,670.97 491.91,701.47 493.69,663.01 495.47,627.21 497.25,659.04 499.03,659.04 500.81,678.93 502.59,669.64 504.37,682.90 506.15,669.64 507.93,685.56 509.70,670.97 511.48,702.13 513.26,663.01 515.04,683.57 516.82,660.36 518.60,681.58 520.38,676.27 522.16,644.45 523.94,674.95 525.72,701.47 527.50,691.52 529.28,681.58 531.06,654.39 532.83,701.47 534.61,678.93 536.39,668.98 538.17,710.75 539.95,662.35 541.73,684.23 543.51,703.46 545.29,688.87 547.07,672.30 548.85,670.31 550.63,685.56 552.41,687.55 554.18,678.93 555.96,704.12 557.74,673.62 559.52,664.34 561.30,688.87 563.08,633.18 564.86,686.22 566.64,687.55 568.42,672.30 570.20,655.72 571.98,668.32 573.76,709.42 575.54,665.67 577.31,630.53 579.09,694.84 580.87,668.32 582.65,667.65 584.43,653.73 586.21,677.60 587.99,692.19 589.77,666.33 591.55,665.67 593.33,700.14 595.11,673.62 596.89,672.96 598.66,665.67 600.44,696.16 602.22,657.71 604.00,694.84 605.78,694.18 607.56,668.32 609.34,694.84 611.12,697.49 612.90,690.20 614.68,718.04 616.46,637.82 618.24,653.73 620.02,651.08 621.79,680.25 623.57,709.42 625.35,711.41 627.13,687.55 628.91,694.84 630.69,674.95 632.47,686.88 634.25,684.89 636.03,662.35 637.81,671.63 639.59,674.28 641.37,705.45 643.14,655.06 644.92,635.17 646.70,693.51 648.48,661.69 650.26,668.32 652.04,696.16 653.82,663.68" fill="none" stroke="#000" stroke-width="2.0" stroke-linejoin="round" stroke-linecap="butt" />
</g>
<g clip-path="url(#p32)">
<circle cx="944.54" cy="675.73" r="2.95" fill="rgba(0,0,0,0.43)" stroke="rgba(0,0,0,0.43)" stroke-width="1.4"/>
<circle cx="949.22" cy="649.59" r="2.95" fill="rgba(0,0,0,0.43)" stroke="rgba(0,0,0,0.43)" stroke-width="1.4"/>
<circle cx="973.40" cy="658.01" r="2.95" fill="rgba(0,0,0,0.43)" stroke="rgba(0,0,0,0.43)" stroke-width="1.4"/>
<circle cx="950.78" cy="691.89" r="2.95" fill="rgba(0,0,0,0.43)" stroke="rgba(0,0,0,0.43)" stroke-width="1.4"/>
<circle cx="928.94" cy="730.66" r="2.95" fill="rgba(0,0,0,0.43)" stroke="rgba(0,0,0,0.43)" stroke-width="1.4"/>
<circle cx="907.88" cy="619.24" r="2.95" fill="rgba(0,0,0,0.43)" stroke="rgba(0,0,0,0.43)" stroke-width="1.4"/>
<circle cx="978.08" cy="678.61" r="2.95" fill="rgba(0,0,0,0.43)" stroke="rgba(0,0,0,0.43)" stroke-width="1.4"/>
<circle cx="953.90" cy="673.95" r="2.95" fill="rgba(0,0,0,0.43)" stroke="rgba(0,0,0,0.43)" stroke-width="1.4"/>
<circle cx="918.02" cy="677.72" r="2.95" fill="rgba(0,0,0,0.43)" stroke="rgba(0,0,0,0.43)" stroke-width="1.4"/>
<circle cx="963.26" cy="678.61" r="2.95" fill="rgba(0,0,0,0.43)" stroke="rgba(0,0,0,0.43)" stroke-width="1.4"/>
<circle cx="1005.38" cy="705.41" r="2.95" fill="rgba(0,0,0,0.43)" stroke="rgba(0,0,0,0.43)" stroke-width="1.4"/>
<circle cx="967.94" cy="687.47" r="2.95" fill="rgba(0,0,0,0.43)" stroke="rgba(0,0,0,0.43)" stroke-width="1.4"/>
<circle cx="967.94" cy="698.54" r="2.95" fill="rgba(0,0,0,0.43)" stroke="rgba(0,0,0,0.43)" stroke-width="1.4"/>
<circle cx="944.54" cy="715.82" r="2.95" fill="rgba(0,0,0,0.43)" stroke="rgba(0,0,0,0.43)" stroke-width="1.4"/>
<circle cx="955.46" cy="680.82" r="2.95" fill="rgba(0,0,0,0.43)" stroke="rgba(0,0,0,0.43)" stroke-width="1.4"/>
<circle cx="939.86" cy="649.81" r="2.95" fill="rgba(0,0,0,0.43)" stroke="rgba(0,0,0,0.43)" stroke-width="1.4"/>
<circle cx="955.46" cy="691.89" r="2.95" fill="rgba(0,0,0,0.43)" stroke="rgba(0,0,0,0.43)" stroke-width="1.4"/>
<circle cx="936.74" cy="709.84" r="2.95" fill="rgba(0,0,0,0.43)" stroke="rgba(0,0,0,0.43)" stroke-width="1.4"/>
<circle cx="953.90" cy="673.95" r="2.95" fill="rgba(0,0,0,0.43)" stroke="rgba(0,0,0,0.43)" stroke-width="1.4"/>
<circle cx="917.24" cy="685.25" r="2.95" fill="rgba(0,0,0,0.43)" stroke="rgba(0,0,0,0.43)" stroke-width="1.4"/>
<circle cx="963.26" cy="728.89" r="2.95" fill="rgba(0,0,0,0.43)" stroke="rgba(0,0,0,0.43)" stroke-width="1.4"/>
<circle cx="939.08" cy="683.92" r="2.95" fill="rgba(0,0,0,0.43)" stroke="rgba(0,0,0,0.43)" stroke-width="1.4"/>
<circle cx="966.38" cy="704.74" r="2.95" fill="rgba(0,0,0,0.43)" stroke="rgba(0,0,0,0.43)" stroke-width="1.4"/>
<circle cx="941.42" cy="691.67" r="2.95" fill="rgba(0,0,0,0.43)" stroke="rgba(0,0,0,0.43)" stroke-width="1.4"/>
<circle cx="947.66" cy="711.61" r="2.95" fill="rgba(0,0,0,0.43)" stroke="rgba(0,0,0,0.43)" stroke-width="1.4"/>
<circle cx="985.10" cy="656.01" r="2.95" fill="rgba(0,0,0,0.43)" stroke="rgba(0,0,0,0.43)" stroke-width="1.4"/>
<circle cx="949.22" cy="678.61" r="2.95" fill="rgba(0,0,0,0.43)" stroke="rgba(0,0,0,0.43)" stroke-width="1.4"/>
<circle cx="918.02" cy="714.27" r="2.95" fill="rgba(0,0,0,0.43)" stroke="rgba(0,0,0,0.43)" stroke-width="1.4"/>
<circle cx="929.72" cy="676.61" r="2.95" fill="rgba(0,0,0,0.43)" stroke="rgba(0,0,0,0.43)" stroke-width="1.4"/>
<circle cx="941.42" cy="698.54" r="2.95" fill="rgba(0,0,0,0.43)" stroke="rgba(0,0,0,0.43)" stroke-width="1.4"/>
<circle cx="973.40" cy="720.69" r="2.95" fill="rgba(0,0,0,0.43)" stroke="rgba(0,0,0,0.43)" stroke-width="1.4"/>
<circle cx="918.02" cy="742.84" r="2.95" fill="rgba(0,0,0,0.43)" stroke="rgba(0,0,0,0.43)" stroke-width="1.4"/>
<circle cx="944.54" cy="696.33" r="2.95" fill="rgba(0,0,0,0.43)" stroke="rgba(0,0,0,0.43)" stroke-width="1.4"/>
<circle cx="956.24" cy="675.28" r="2.95" fill="rgba(0,0,0,0.43)" stroke="rgba(0,0,0,0.43)" stroke-width="1.4"/>
<circle cx="907.10" cy="675.28" r="2.95" fill="rgba(0,0,0,0.43)" stroke="rgba(0,0,0,0.43)" stroke-width="1.4"/>
<circle cx="964.04" cy="693.00" r="2.95" fill="rgba(0,0,0,0.43)" stroke="rgba(0,0,0,0.43)" stroke-width="1.4"/>
<circle cx="938.30" cy="670.63" r="2.95" fill="rgba(0,0,0,0.43)" stroke="rgba(0,0,0,0.43)" stroke-width="1.4"/>
<circle cx="915.68" cy="704.74" r="2.95" fill="rgba(0,0,0,0.43)" stroke="rgba(0,0,0,0.43)" stroke-width="1.4"/>
<circle cx="932.84" cy="656.68" r="2.95" fill="rgba(0,0,0,0.43)" stroke="rgba(0,0,0,0.43)" stroke-width="1.4"/>
<circle cx="952.34" cy="687.24" r="2.95" fill="rgba(0,0,0,0.43)" stroke="rgba(0,0,0,0.43)" stroke-width="1.4"/>
<circle cx="954.68" cy="678.61" r="2.95" fill="rgba(0,0,0,0.43)" stroke="rgba(0,0,0,0.43)" stroke-width="1.4"/>
<circle cx="936.74" cy="660.00" r="2.95" fill="rgba(0,0,0,0.43)" stroke="rgba(0,0,0,0.43)" stroke-width="1.4"/>
<circle cx="934.40" cy="685.25" r="2.95" fill="rgba(0,0,0,0.43)" stroke="rgba(0,0,0,0.43)" stroke-width="1.4"/>
<circle cx="944.54" cy="704.74" r="2.95" fill="rgba(0,0,0,0.43)" stroke="rgba(0,0,0,0.43)" stroke-width="1.4"/>
<circle cx="914.90" cy="650.47" r="2.95" fill="rgba(0,0,0,0.43)" stroke="rgba(0,0,0,0.43)" stroke-width="1.4"/>
<circle cx="950.78" cy="729.77" r="2.95" fill="rgba(0,0,0,0.43)" stroke="rgba(0,0,0,0.43)" stroke-width="1.4"/>
<circle cx="961.70" cy="685.25" r="2.95" fill="rgba(0,0,0,0.43)" stroke="rgba(0,0,0,0.43)" stroke-width="1.4"/>
<circle cx="932.84" cy="691.89" r="2.95" fill="rgba(0,0,0,0.43)" stroke="rgba(0,0,0,0.43)" stroke-width="1.4"/>
<circle cx="998.36" cy="702.97" r="2.95" fill="rgba(0,0,0,0.43)" stroke="rgba(0,0,0,0.43)" stroke-width="1.4"/>
<circle cx="935.96" cy="660.00" r="2.95" fill="rgba(0,0,0,0.43)" stroke="rgba(0,0,0,0.43)" stroke-width="1.4"/>
<circle cx="934.40" cy="677.94" r="2.95" fill="rgba(0,0,0,0.43)" stroke="rgba(0,0,0,0.43)" stroke-width="1.4"/>
<circle cx="952.34" cy="680.82" r="2.95" fill="rgba(0,0,0,0.43)" stroke="rgba(0,0,0,0.43)" stroke-width="1.4"/>
<circle cx="971.84" cy="694.33" r="2.95" fill="rgba(0,0,0,0.43)" stroke="rgba(0,0,0,0.43)" stroke-width="1.4"/>
<circle cx="957.02" cy="680.82" r="2.95" fill="rgba(0,0,0,0.43)" stroke="rgba(0,0,0,0.43)" stroke-width="1.4"/>
<circle cx="908.66" cy="659.56" r="2.95" fill="rgba(0,0,0,0.43)" stroke="rgba(0,0,0,0.43)" stroke-width="1.4"/>
<circle cx="960.14" cy="664.21" r="2.95" fill="rgba(0,0,0,0.43)" stroke="rgba(0,0,0,0.43)" stroke-width="1.4"/>
<circle cx="1001.48" cy="753.91" r="2.95" fill="rgba(0,0,0,0.43)" stroke="rgba(0,0,0,0.43)" stroke-width="1.4"/>
<circle cx="925.82" cy="667.09" r="2.95" fill="rgba(0,0,0,0.43)" stroke="rgba(0,0,0,0.43)" stroke-width="1.4"/>
<circle cx="957.02" cy="691.89" r="2.95" fill="rgba(0,0,0,0.43)" stroke="rgba(0,0,0,0.43)" stroke-width="1.4"/>
<circle cx="957.80" cy="697.65" r="2.95" fill="rgba(0,0,0,0.43)" stroke="rgba(0,0,0,0.43)" stroke-width="1.4"/>
<circle cx="974.18" cy="671.96" r="2.95" fill="rgba(0,0,0,0.43)" stroke="rgba(0,0,0,0.43)" stroke-width="1.4"/>
<circle cx="946.10" cy="694.33" r="2.95" fill="rgba(0,0,0,0.43)" stroke="rgba(0,0,0,0.43)" stroke-width="1.4"/>
<circle cx="928.94" cy="686.80" r="2.95" fill="rgba(0,0,0,0.43)" stroke="rgba(0,0,0,0.43)" stroke-width="1.4"/>
<circle cx="959.36" cy="678.61" r="2.95" fill="rgba(0,0,0,0.43)" stroke="rgba(0,0,0,0.43)" stroke-width="1.4"/>
<circle cx="960.14" cy="650.92" r="2.95" fill="rgba(0,0,0,0.43)" stroke="rgba(0,0,0,0.43)" stroke-width="1.4"/>
<circle cx="919.58" cy="691.89" r="2.95" fill="rgba(0,0,0,0.43)" stroke="rgba(0,0,0,0.43)" stroke-width="1.4"/>
<circle cx="950.78" cy="685.25" r="2.95" fill="rgba(0,0,0,0.43)" stroke="rgba(0,0,0,0.43)" stroke-width="1.4"/>
<circle cx="951.56" cy="712.49" r="2.95" fill="rgba(0,0,0,0.43)" stroke="rgba(0,0,0,0.43)" stroke-width="1.4"/>
<circle cx="960.14" cy="696.55" r="2.95" fill="rgba(0,0,0,0.43)" stroke="rgba(0,0,0,0.43)" stroke-width="1.4"/>
<circle cx="924.26" cy="698.54" r="2.95" fill="rgba(0,0,0,0.43)" stroke="rgba(0,0,0,0.43)" stroke-width="1.4"/>
<circle cx="969.50" cy="689.68" r="2.95" fill="rgba(0,0,0,0.43)" stroke="rgba(0,0,0,0.43)" stroke-width="1.4"/>
<circle cx="925.82" cy="670.63" r="2.95" fill="rgba(0,0,0,0.43)" stroke="rgba(0,0,0,0.43)" stroke-width="1.4"/>
<circle cx="926.60" cy="697.43" r="2.95" fill="rgba(0,0,0,0.43)" stroke="rgba(0,0,0,0.43)" stroke-width="1.4"/>
<circle cx="957.02" cy="628.99" r="2.95" fill="rgba(0,0,0,0.43)" stroke="rgba(0,0,0,0.43)" stroke-width="1.4"/>
<circle cx="925.82" cy="673.73" r="2.95" fill="rgba(0,0,0,0.43)" stroke="rgba(0,0,0,0.43)" stroke-width="1.4"/>
<circle cx="922.70" cy="653.58" r="2.95" fill="rgba(0,0,0,0.43)" stroke="rgba(0,0,0,0.43)" stroke-width="1.4"/>
<circle cx="931.28" cy="730.66" r="2.95" fill="rgba(0,0,0,0.43)" stroke="rgba(0,0,0,0.43)" stroke-width="1.4"/>
<circle cx="898.52" cy="655.35" r="2.95" fill="rgba(0,0,0,0.43)" stroke="rgba(0,0,0,0.43)" stroke-width="1.4"/>
<circle cx="992.90" cy="723.79" r="2.95" fill="rgba(0,0,0,0.43)" stroke="rgba(0,0,0,0.43)" stroke-width="1.4"/>
<circle cx="974.18" cy="672.85" r="2.95" fill="rgba(0,0,0,0.43)" stroke="rgba(0,0,0,0.43)" stroke-width="1.4"/>
<circle cx="977.30" cy="685.25" r="2.95" fill="rgba(0,0,0,0.43)" stroke="rgba(0,0,0,0.43)" stroke-width="1.4"/>
<circle cx="942.98" cy="693.45" r="2.95" fill="rgba(0,0,0,0.43)" stroke="rgba(0,0,0,0.43)" stroke-width="1.4"/>
<circle cx="908.66" cy="645.38" r="2.95" fill="rgba(0,0,0,0.43)" stroke="rgba(0,0,0,0.43)" stroke-width="1.4"/>
<circle cx="906.32" cy="689.02" r="2.95" fill="rgba(0,0,0,0.43)" stroke="rgba(0,0,0,0.43)" stroke-width="1.4"/>
<circle cx="934.40" cy="678.61" r="2.95" fill="rgba(0,0,0,0.43)" stroke="rgba(0,0,0,0.43)" stroke-width="1.4"/>
<circle cx="925.82" cy="702.08" r="2.95" fill="rgba(0,0,0,0.43)" stroke="rgba(0,0,0,0.43)" stroke-width="1.4"/>
<circle cx="949.22" cy="685.25" r="2.95" fill="rgba(0,0,0,0.43)" stroke="rgba(0,0,0,0.43)" stroke-width="1.4"/>
<circle cx="935.18" cy="661.33" r="2.95" fill="rgba(0,0,0,0.43)" stroke="rgba(0,0,0,0.43)" stroke-width="1.4"/>
<circle cx="937.52" cy="672.85" r="2.95" fill="rgba(0,0,0,0.43)" stroke="rgba(0,0,0,0.43)" stroke-width="1.4"/>
<circle cx="964.04" cy="668.19" r="2.95" fill="rgba(0,0,0,0.43)" stroke="rgba(0,0,0,0.43)" stroke-width="1.4"/>
<circle cx="953.12" cy="695.88" r="2.95" fill="rgba(0,0,0,0.43)" stroke="rgba(0,0,0,0.43)" stroke-width="1.4"/>
<circle cx="950.00" cy="685.25" r="2.95" fill="rgba(0,0,0,0.43)" stroke="rgba(0,0,0,0.43)" stroke-width="1.4"/>
<circle cx="913.34" cy="670.41" r="2.95" fill="rgba(0,0,0,0.43)" stroke="rgba(0,0,0,0.43)" stroke-width="1.4"/>
<circle cx="972.62" cy="723.79" r="2.95" fill="rgba(0,0,0,0.43)" stroke="rgba(0,0,0,0.43)" stroke-width="1.4"/>
<circle cx="996.02" cy="659.56" r="2.95" fill="rgba(0,0,0,0.43)" stroke="rgba(0,0,0,0.43)" stroke-width="1.4"/>
<circle cx="927.38" cy="675.95" r="2.95" fill="rgba(0,0,0,0.43)" stroke="rgba(0,0,0,0.43)" stroke-width="1.4"/>
<circle cx="964.82" cy="689.68" r="2.95" fill="rgba(0,0,0,0.43)" stroke="rgba(0,0,0,0.43)" stroke-width="1.4"/>
<circle cx="957.02" cy="666.87" r="2.95" fill="rgba(0,0,0,0.43)" stroke="rgba(0,0,0,0.43)" stroke-width="1.4"/>
<circle cx="924.26" cy="691.89" r="2.95" fill="rgba(0,0,0,0.43)" stroke="rgba(0,0,0,0.43)" stroke-width="1.4"/>
<circle cx="962.48" cy="695.88" r="2.95" fill="rgba(0,0,0,0.43)" stroke="rgba(0,0,0,0.43)" stroke-width="1.4"/>
</g>
<g clip-path="url(#p42)">
<polyline points="1108.33,710.28 1110.11,726.01 1111.89,663.10 1113.67,682.59 1115.45,698.98 1117.23,689.24 1119.00,695.22 1120.78,663.10 1122.56,669.08 1124.34,723.79 1126.12,677.94 1127.90,669.08 1129.68,671.30 1131.46,738.85 1133.24,691.45 1135.02,641.17 1136.80,677.94 1138.58,723.13 1140.35,721.58 1142.13,674.40 1143.91,689.24 1145.69,663.76 1147.47,677.94 1149.25,683.26 1151.03,681.04 1152.81,682.59 1154.59,713.38 1156.37,632.98 1158.15,717.15 1159.93,685.47 1161.71,696.77 1163.48,644.94 1165.26,663.10 1167.04,698.32 1168.82,681.04 1170.60,660.00 1172.38,636.08 1174.16,671.96 1175.94,708.06 1177.72,707.40 1179.50,640.51 1181.28,731.32 1183.06,617.25 1184.83,691.45 1186.61,695.22 1188.39,677.94 1190.17,664.43 1191.95,676.61 1193.73,729.11 1195.51,677.50 1197.29,675.73 1199.07,670.63 1200.85,708.06 1202.63,738.19 1204.41,692.34 1206.19,705.18 1207.96,702.75 1209.74,705.85 1211.52,694.55 1213.30,692.34 1215.08,667.53 1216.86,663.10 1218.64,702.75 1220.42,690.12 1222.20,677.94 1223.98,654.02 1225.76,682.59 1227.54,723.13 1229.31,680.38 1231.09,687.91 1232.87,645.82 1234.65,676.61 1236.43,698.98 1238.21,696.10 1239.99,696.77 1241.77,681.71 1243.55,681.04 1245.33,664.43 1247.11,677.94 1248.89,692.34 1250.67,705.85 1252.44,671.30 1254.22,686.36 1256.00,681.71 1257.78,664.43 1259.56,646.49 1261.34,706.51 1263.12,648.70 1264.90,705.18 1266.68,679.49 1268.46,681.04 1270.24,691.45 1272.02,654.02 1273.79,699.87 1275.57,670.63 1277.35,684.14 1279.13,705.85 1280.91,658.45 1282.69,731.32 1284.47,697.65" fill="none" stroke="#000" stroke-width="2.0" stroke-linejoin="round" stroke-linecap="butt" />
</g>
<text x="203.10" y="204.25" font-size="17.90" textLength="19.24" lengthAdjust="spacingAndGlyphs" fill="#000">R²</text>
<text x="230.89" y="204.25" font-size="17.90" textLength="13.22" lengthAdjust="spacingAndGlyphs" fill="#000">=</text>
<text x="252.69" y="204.25" font-size="17.90" textLength="40.50" lengthAdjust="spacingAndGlyphs" fill="#000">0.89</text>
<text x="180.30" y="231.65" font-size="17.90" textLength="52.99" lengthAdjust="spacingAndGlyphs" fill="#000">RMSE</text>
<text x="240.89" y="231.65" font-size="17.90" textLength="13.22" lengthAdjust="spacingAndGlyphs" fill="#000">=</text>
<text x="262.19" y="231.65" font-size="17.90" textLength="28.71" lengthAdjust="spacingAndGlyphs" fill="#000">0.3</text>
<g clip-path="url(#p20)">
<text x="494.26" y="237.45" font-size="17.30" textLength="51.26" lengthAdjust="spacingAndGlyphs" fill="#000">AR(1)</text>
<text x="553.08" y="237.45" font-size="17.30" textLength="14.54" lengthAdjust="spacingAndGlyphs" fill="#000">=</text>
<text x="574.88" y="237.45" font-size="17.30" textLength="41.05" lengthAdjust="spacingAndGlyphs" fill="#000">0.03</text>
<text x="622.83" y="237.45" font-size="17.30" textLength="41.28" lengthAdjust="spacingAndGlyphs" fill="#000">[-0.1</text>
</g>
<text x="203.10" y="466.25" font-size="17.90" textLength="19.24" lengthAdjust="spacingAndGlyphs" fill="#000">R²</text>
<text x="230.89" y="466.25" font-size="17.90" textLength="13.22" lengthAdjust="spacingAndGlyphs" fill="#000">=</text>
<text x="252.69" y="466.25" font-size="17.90" textLength="40.35" lengthAdjust="spacingAndGlyphs" fill="#000">0.87</text>
<text x="168.55" y="493.65" font-size="17.90" textLength="51.22" lengthAdjust="spacingAndGlyphs" fill="#000">RMSE</text>
<text x="227.89" y="493.65" font-size="17.90" textLength="13.22" lengthAdjust="spacingAndGlyphs" fill="#000">=</text>
<text x="249.18" y="493.65" font-size="17.90" textLength="40.69" lengthAdjust="spacingAndGlyphs" fill="#000">0.35</text>
<g clip-path="url(#p21)">
<text x="494.26" y="499.45" font-size="17.30" textLength="51.26" lengthAdjust="spacingAndGlyphs" fill="#000">AR(1)</text>
<text x="553.08" y="499.45" font-size="17.30" textLength="14.54" lengthAdjust="spacingAndGlyphs" fill="#000">=</text>
<text x="574.87" y="499.45" font-size="17.30" textLength="41.19" lengthAdjust="spacingAndGlyphs" fill="#000">0.02</text>
<text x="622.83" y="499.45" font-size="17.30" textLength="41.28" lengthAdjust="spacingAndGlyphs" fill="#000">[-0.1</text>
</g>
<text x="203.30" y="728.50" font-size="17.90" textLength="19.24" lengthAdjust="spacingAndGlyphs" fill="#000">R²</text>
<text x="230.67" y="728.50" font-size="17.90" textLength="13.46" lengthAdjust="spacingAndGlyphs" fill="#000">=</text>
<text x="253.00" y="728.50" font-size="17.90" textLength="39.62" lengthAdjust="spacingAndGlyphs" fill="#000">0.92</text>
<text x="167.10" y="755.90" font-size="17.90" textLength="52.68" lengthAdjust="spacingAndGlyphs" fill="#000">RMSE</text>
<text x="227.85" y="755.90" font-size="17.90" textLength="13.70" lengthAdjust="spacingAndGlyphs" fill="#000">=</text>
<text x="249.79" y="755.90" font-size="17.90" textLength="40.39" lengthAdjust="spacingAndGlyphs" fill="#000">0.29</text>
<g clip-path="url(#p22)">
<text x="494.26" y="761.70" font-size="17.30" textLength="51.26" lengthAdjust="spacingAndGlyphs" fill="#000">AR(1)</text>
<text x="553.08" y="761.70" font-size="17.30" textLength="14.54" lengthAdjust="spacingAndGlyphs" fill="#000">=</text>
<text x="574.74" y="761.70" font-size="17.30" textLength="49.35" lengthAdjust="spacingAndGlyphs" fill="#000">-0.02</text>
<text x="630.59" y="761.70" font-size="17.30" textLength="34.71" lengthAdjust="spacingAndGlyphs" fill="#000">[-0.</text>
</g>
<polygon points="335.20,107.80 336.13,107.80 336.38,109.49 336.67,111.18 337.03,112.86 337.47,114.55 337.98,116.24 338.57,117.93 339.27,119.62 340.07,121.31 340.98,122.99 342.00,124.68 343.15,126.37 344.41,128.06 345.79,129.75 347.29,131.44 348.88,133.12 350.57,134.81 352.33,136.50 354.13,138.19 355.97,139.88 357.80,141.57 359.60,143.25 361.34,144.94 362.98,146.63 364.49,148.32 365.84,150.01 367.00,151.70 367.94,153.38 368.65,155.07 369.10,156.76 369.29,158.45 369.22,160.14 368.87,161.83 368.27,163.51 367.42,165.20 366.34,166.89 365.07,168.58 363.62,170.27 362.03,171.96 360.33,173.64 358.55,175.33 356.73,177.02 354.89,178.71 353.07,180.40 351.29,182.09 349.57,183.77 347.94,185.46 346.40,187.15 344.97,188.84 343.66,190.53 342.46,192.22 341.39,193.91 340.43,195.59 339.59,197.28 338.85,198.97 338.21,200.66 337.67,202.35 337.20,204.03 336.82,205.72 336.49,207.41 336.23,209.10 335.20,209.10" fill="#7F7F7F"/>
<rect x="337.50" y="105.20" width="1.53" height="1.80" fill="#fff"/>
<rect x="335.20" y="105.20" width="2.30" height="1.80" fill="#7F7F7F"/>
<rect x="346.80" y="137.00" width="14.79" height="5.30" fill="#fff"/>
<rect x="335.20" y="137.00" width="11.60" height="5.30" fill="#7F7F7F"/>
<rect x="335.20" y="142.30" width="36.30" height="5.30" fill="#7F7F7F"/>
<rect x="335.20" y="147.60" width="39.30" height="5.30" fill="#7F7F7F"/>
<rect x="357.30" y="152.90" width="14.98" height="5.30" fill="#fff"/>
<rect x="335.20" y="152.90" width="22.10" height="5.30" fill="#7F7F7F"/>
<rect x="335.20" y="158.20" width="43.10" height="5.30" fill="#7F7F7F"/>
<rect x="352.80" y="163.50" width="18.47" height="5.30" fill="#fff"/>
<rect x="335.20" y="163.50" width="17.60" height="5.30" fill="#7F7F7F"/>
<rect x="335.20" y="168.80" width="36.30" height="5.30" fill="#7F7F7F"/>
<rect x="340.80" y="179.40" width="16.35" height="5.30" fill="#fff"/>
<rect x="335.20" y="179.40" width="5.60" height="5.30" fill="#7F7F7F"/>
<rect x="337.00" y="209.50" width="2.17" height="1.90" fill="#fff"/>
<rect x="335.20" y="209.50" width="1.80" height="1.90" fill="#7F7F7F"/>
<path d="M336.13,107.80 L336.38,109.49 L336.67,111.18 L337.03,112.86 L337.47,114.55 L337.98,116.24 L338.57,117.93 L339.27,119.62 L340.07,121.31 L340.98,122.99 L342.00,124.68 L343.15,126.37 L344.41,128.06 L345.79,129.75 L347.29,131.44 L348.88,133.12 L350.57,134.81 L352.33,136.50 L354.13,138.19 L355.97,139.88 L357.80,141.57 L359.60,143.25 L361.34,144.94 L362.98,146.63 L364.49,148.32 L365.84,150.01 L367.00,151.70 L367.94,153.38 L368.65,155.07 L369.10,156.76 L369.29,158.45 L369.22,160.14 L368.87,161.83 L368.27,163.51 L367.42,165.20 L366.34,166.89 L365.07,168.58 L363.62,170.27 L362.03,171.96 L360.33,173.64 L358.55,175.33 L356.73,177.02 L354.89,178.71 L353.07,180.40 L351.29,182.09 L349.57,183.77 L347.94,185.46 L346.40,187.15 L344.97,188.84 L343.66,190.53 L342.46,192.22 L341.39,193.91 L340.43,195.59 L339.59,197.28 L338.85,198.97 L338.21,200.66 L337.67,202.35 L337.20,204.03 L336.82,205.72 L336.49,207.41 L336.23,209.10" fill="none" stroke="#000" stroke-width="4.8" stroke-linecap="butt"/>
<polygon points="335.20,373.00 336.52,373.00 336.79,374.53 337.10,376.05 337.45,377.58 337.86,379.11 338.33,380.63 338.85,382.16 339.44,383.69 340.10,385.21 340.82,386.74 341.62,388.27 342.50,389.79 343.44,391.32 344.46,392.85 345.54,394.37 346.69,395.90 347.90,397.43 349.15,398.95 350.44,400.48 351.76,402.01 353.09,403.53 354.43,405.06 355.75,406.59 357.04,408.11 358.28,409.64 359.46,411.17 360.55,412.69 361.55,414.22 362.44,415.75 363.20,417.27 363.83,418.80 364.30,420.33 364.62,421.85 364.78,423.38 364.78,424.91 364.61,426.43 364.28,427.96 363.80,429.49 363.16,431.01 362.39,432.54 361.50,434.07 360.50,435.59 359.39,437.12 358.21,438.65 356.97,440.17 355.68,441.70 354.35,443.23 353.02,444.75 351.69,446.28 350.37,447.81 349.08,449.33 347.83,450.86 346.62,452.39 345.48,453.91 344.40,455.44 343.39,456.97 342.45,458.49 341.58,460.02 340.78,461.55 340.06,463.07 339.40,464.60 335.20,464.60" fill="#7F7F7F"/>
<rect x="335.20" y="370.00" width="5.60" height="3.00" fill="#7F7F7F"/>
<rect x="340.80" y="394.80" width="11.64" height="4.50" fill="#fff"/>
<rect x="335.20" y="394.80" width="5.60" height="4.50" fill="#7F7F7F"/>
<rect x="346.80" y="403.80" width="13.97" height="5.20" fill="#fff"/>
<rect x="335.20" y="403.80" width="11.60" height="5.20" fill="#7F7F7F"/>
<rect x="352.80" y="409.00" width="15.00" height="15.00" fill="#fff"/>
<rect x="335.20" y="409.00" width="17.60" height="15.00" fill="#7F7F7F"/>
<rect x="335.20" y="424.00" width="43.10" height="5.30" fill="#7F7F7F"/>
<rect x="335.20" y="429.30" width="36.30" height="4.50" fill="#7F7F7F"/>
<rect x="335.20" y="433.80" width="33.30" height="3.80" fill="#7F7F7F"/>
<rect x="346.80" y="437.60" width="15.23" height="5.20" fill="#fff"/>
<rect x="335.20" y="437.60" width="11.60" height="5.20" fill="#7F7F7F"/>
<rect x="335.20" y="452.60" width="17.60" height="5.30" fill="#7F7F7F"/>
<rect x="337.00" y="464.60" width="5.40" height="3.00" fill="#fff"/>
<rect x="335.20" y="464.60" width="1.80" height="3.00" fill="#7F7F7F"/>
<path d="M336.52,373.00 L336.79,374.53 L337.10,376.05 L337.45,377.58 L337.86,379.11 L338.33,380.63 L338.85,382.16 L339.44,383.69 L340.10,385.21 L340.82,386.74 L341.62,388.27 L342.50,389.79 L343.44,391.32 L344.46,392.85 L345.54,394.37 L346.69,395.90 L347.90,397.43 L349.15,398.95 L350.44,400.48 L351.76,402.01 L353.09,403.53 L354.43,405.06 L355.75,406.59 L357.04,408.11 L358.28,409.64 L359.46,411.17 L360.55,412.69 L361.55,414.22 L362.44,415.75 L363.20,417.27 L363.83,418.80 L364.30,420.33 L364.62,421.85 L364.78,423.38 L364.78,424.91 L364.61,426.43 L364.28,427.96 L363.80,429.49 L363.16,431.01 L362.39,432.54 L361.50,434.07 L360.50,435.59 L359.39,437.12 L358.21,438.65 L356.97,440.17 L355.68,441.70 L354.35,443.23 L353.02,444.75 L351.69,446.28 L350.37,447.81 L349.08,449.33 L347.83,450.86 L346.62,452.39 L345.48,453.91 L344.40,455.44 L343.39,456.97 L342.45,458.49 L341.58,460.02 L340.78,461.55 L340.06,463.07 L339.40,464.60" fill="none" stroke="#000" stroke-width="4.8" stroke-linecap="butt"/>
<polygon points="335.50,627.10 336.34,627.10 336.57,629.12 336.86,631.14 337.20,633.16 337.61,635.18 338.10,637.20 338.67,639.22 339.34,641.24 340.11,643.26 340.99,645.28 341.98,647.30 343.09,649.32 344.31,651.34 345.64,653.36 347.08,655.38 348.61,657.40 350.22,659.42 351.88,661.44 353.58,663.46 355.29,665.48 356.97,667.50 358.61,669.52 360.16,671.54 361.60,673.56 362.88,675.58 363.99,677.60 364.90,679.62 365.58,681.64 366.01,683.66 366.19,685.68 366.12,687.70 365.79,689.72 365.21,691.74 364.39,693.76 363.37,695.78 362.15,697.80 360.77,699.82 359.27,701.84 357.66,703.86 355.99,705.88 354.29,707.90 352.58,709.92 350.90,711.94 349.27,713.96 347.71,715.98 346.23,718.00 344.85,720.02 343.58,722.04 342.43,724.06 341.39,726.08 340.46,728.10 339.65,730.12 338.94,732.14 338.32,734.16 337.80,736.18 337.36,738.20 336.99,740.22 336.68,742.24 336.43,744.26 336.23,746.28 336.06,748.30 335.50,748.30" fill="#7F7F7F"/>
<rect x="338.00" y="623.90" width="1.19" height="1.60" fill="#fff"/>
<rect x="335.50" y="623.90" width="2.50" height="1.60" fill="#7F7F7F"/>
<rect x="345.20" y="643.30" width="1.11" height="6.40" fill="#fff"/>
<rect x="335.50" y="643.30" width="9.70" height="6.40" fill="#7F7F7F"/>
<rect x="339.50" y="649.70" width="10.60" height="5.70" fill="#fff"/>
<rect x="335.50" y="649.70" width="4.00" height="5.70" fill="#7F7F7F"/>
<rect x="335.50" y="661.80" width="25.80" height="6.50" fill="#7F7F7F"/>
<rect x="335.50" y="674.80" width="33.90" height="6.40" fill="#7F7F7F"/>
<rect x="335.50" y="687.70" width="42.80" height="6.50" fill="#7F7F7F"/>
<rect x="346.00" y="700.60" width="17.21" height="6.50" fill="#fff"/>
<rect x="335.50" y="700.60" width="10.50" height="6.50" fill="#7F7F7F"/>
<rect x="335.50" y="733.00" width="6.50" height="6.40" fill="#7F7F7F"/>
<path d="M336.34,627.10 L336.57,629.12 L336.86,631.14 L337.20,633.16 L337.61,635.18 L338.10,637.20 L338.67,639.22 L339.34,641.24 L340.11,643.26 L340.99,645.28 L341.98,647.30 L343.09,649.32 L344.31,651.34 L345.64,653.36 L347.08,655.38 L348.61,657.40 L350.22,659.42 L351.88,661.44 L353.58,663.46 L355.29,665.48 L356.97,667.50 L358.61,669.52 L360.16,671.54 L361.60,673.56 L362.88,675.58 L363.99,677.60 L364.90,679.62 L365.58,681.64 L366.01,683.66 L366.19,685.68 L366.12,687.70 L365.79,689.72 L365.21,691.74 L364.39,693.76 L363.37,695.78 L362.15,697.80 L360.77,699.82 L359.27,701.84 L357.66,703.86 L355.99,705.88 L354.29,707.90 L352.58,709.92 L350.90,711.94 L349.27,713.96 L347.71,715.98 L346.23,718.00 L344.85,720.02 L343.58,722.04 L342.43,724.06 L341.39,726.08 L340.46,728.10 L339.65,730.12 L338.94,732.14 L338.32,734.16 L337.80,736.18 L337.36,738.20 L336.99,740.22 L336.68,742.24 L336.43,744.26 L336.23,746.28 L336.06,748.30" fill="none" stroke="#000" stroke-width="4.8" stroke-linecap="butt"/>
<polygon points="694.40,102.50 696.01,102.50 696.34,103.99 696.71,105.48 697.14,106.97 697.63,108.45 698.19,109.94 698.82,111.43 699.54,112.92 700.34,114.41 701.22,115.89 702.20,117.38 703.26,118.87 704.43,120.36 705.68,121.85 707.03,123.34 708.46,124.83 709.97,126.31 711.55,127.80 713.20,129.29 714.89,130.78 716.62,132.27 718.37,133.75 720.12,135.24 721.85,136.73 723.55,138.22 725.19,139.71 726.74,141.20 728.20,142.69 729.54,144.17 730.74,145.66 731.79,147.15 732.66,148.64 733.34,150.13 733.83,151.62 734.12,153.10 734.20,154.59 734.07,156.08 733.73,157.57 733.19,159.06 732.45,160.55 731.53,162.03 730.45,163.52 729.21,165.01 727.84,166.50 726.35,167.99 724.77,169.48 723.12,170.96 721.41,172.45 719.67,173.94 717.92,175.43 716.17,176.92 714.45,178.41 712.77,179.89 711.14,181.38 709.57,182.87 708.08,184.36 706.67,185.85 705.35,187.34 704.12,188.82 702.98,190.31 701.94,191.80 694.40,191.80" fill="#7F7F7F"/>
<rect x="698.20" y="99.00" width="0.54" height="2.00" fill="#fff"/>
<rect x="694.40" y="99.00" width="3.80" height="2.00" fill="#7F7F7F"/>
<rect x="705.80" y="114.20" width="0.12" height="4.20" fill="#fff"/>
<rect x="694.40" y="114.20" width="11.40" height="4.20" fill="#7F7F7F"/>
<rect x="698.20" y="118.40" width="11.70" height="4.80" fill="#fff"/>
<rect x="694.40" y="118.40" width="3.80" height="4.80" fill="#7F7F7F"/>
<rect x="710.00" y="137.80" width="20.55" height="4.20" fill="#fff"/>
<rect x="694.40" y="137.80" width="15.60" height="4.20" fill="#7F7F7F"/>
<rect x="694.40" y="142.00" width="43.20" height="4.80" fill="#7F7F7F"/>
<rect x="721.70" y="157.20" width="15.13" height="4.80" fill="#fff"/>
<rect x="694.40" y="157.20" width="27.30" height="4.80" fill="#7F7F7F"/>
<rect x="729.30" y="162.00" width="5.26" height="8.30" fill="#fff"/>
<rect x="694.40" y="162.00" width="34.90" height="8.30" fill="#7F7F7F"/>
<rect x="713.40" y="180.00" width="2.25" height="4.90" fill="#fff"/>
<rect x="694.40" y="180.00" width="19.00" height="4.90" fill="#7F7F7F"/>
<rect x="700.00" y="191.80" width="4.94" height="2.80" fill="#fff"/>
<rect x="694.40" y="191.80" width="5.60" height="2.80" fill="#7F7F7F"/>
<path d="M696.01,102.50 L696.34,103.99 L696.71,105.48 L697.14,106.97 L697.63,108.45 L698.19,109.94 L698.82,111.43 L699.54,112.92 L700.34,114.41 L701.22,115.89 L702.20,117.38 L703.26,118.87 L704.43,120.36 L705.68,121.85 L707.03,123.34 L708.46,124.83 L709.97,126.31 L711.55,127.80 L713.20,129.29 L714.89,130.78 L716.62,132.27 L718.37,133.75 L720.12,135.24 L721.85,136.73 L723.55,138.22 L725.19,139.71 L726.74,141.20 L728.20,142.69 L729.54,144.17 L730.74,145.66 L731.79,147.15 L732.66,148.64 L733.34,150.13 L733.83,151.62 L734.12,153.10 L734.20,154.59 L734.07,156.08 L733.73,157.57 L733.19,159.06 L732.45,160.55 L731.53,162.03 L730.45,163.52 L729.21,165.01 L727.84,166.50 L726.35,167.99 L724.77,169.48 L723.12,170.96 L721.41,172.45 L719.67,173.94 L717.92,175.43 L716.17,176.92 L714.45,178.41 L712.77,179.89 L711.14,181.38 L709.57,182.87 L708.08,184.36 L706.67,185.85 L705.35,187.34 L704.12,188.82 L702.98,190.31 L701.94,191.80" fill="none" stroke="#000" stroke-width="4.8" stroke-linecap="butt"/>
<polygon points="694.50,356.30 695.91,356.30 696.29,358.54 696.75,360.78 697.31,363.01 697.98,365.25 698.76,367.49 699.67,369.73 700.71,371.97 701.90,374.21 703.22,376.44 704.69,378.68 706.29,380.92 708.02,383.16 709.85,385.40 711.76,387.64 713.73,389.88 715.73,392.11 717.70,394.35 719.63,396.59 721.46,398.83 723.14,401.07 724.65,403.31 725.94,405.54 726.97,407.78 727.72,410.02 728.17,412.26 728.30,414.50 728.11,416.74 727.61,418.97 726.81,421.21 725.73,423.45 724.40,425.69 722.86,427.93 721.14,430.17 719.30,432.40 717.36,434.64 715.38,436.88 713.38,439.12 711.42,441.36 709.52,443.60 707.71,445.83 706.00,448.07 704.42,450.31 702.98,452.55 701.68,454.79 700.52,457.03 699.50,459.26 698.61,461.50 697.85,463.74 697.21,465.98 696.67,468.22 696.22,470.46 695.85,472.69 695.55,474.93 695.31,477.17 695.11,479.41 694.96,481.65 694.85,483.88 694.76,486.12 694.69,488.36 694.64,490.60 694.50,490.60" fill="#7F7F7F"/>
<rect x="697.00" y="351.90" width="1.77" height="3.50" fill="#fff"/>
<rect x="694.50" y="351.90" width="2.50" height="3.50" fill="#7F7F7F"/>
<rect x="724.00" y="395.30" width="2.93" height="6.90" fill="#fff"/>
<rect x="694.50" y="395.30" width="29.50" height="6.90" fill="#7F7F7F"/>
<rect x="694.50" y="402.20" width="43.40" height="6.10" fill="#7F7F7F"/>
<rect x="718.80" y="416.90" width="12.28" height="7.00" fill="#fff"/>
<rect x="694.50" y="416.90" width="24.30" height="7.00" fill="#7F7F7F"/>
<rect x="726.60" y="423.90" width="1.88" height="6.90" fill="#fff"/>
<rect x="694.50" y="423.90" width="32.10" height="6.90" fill="#7F7F7F"/>
<rect x="711.00" y="430.80" width="12.63" height="6.10" fill="#fff"/>
<rect x="694.50" y="430.80" width="16.50" height="6.10" fill="#7F7F7F"/>
<rect x="694.50" y="462.90" width="7.00" height="3.40" fill="#7F7F7F"/>
<rect x="694.50" y="466.30" width="5.62" height="23.70" fill="#fff"/>
<rect x="697.00" y="490.60" width="0.64" height="4.40" fill="#fff"/>
<rect x="694.50" y="490.60" width="2.50" height="4.40" fill="#7F7F7F"/>
<path d="M695.91,356.30 L696.29,358.54 L696.75,360.78 L697.31,363.01 L697.98,365.25 L698.76,367.49 L699.67,369.73 L700.71,371.97 L701.90,374.21 L703.22,376.44 L704.69,378.68 L706.29,380.92 L708.02,383.16 L709.85,385.40 L711.76,387.64 L713.73,389.88 L715.73,392.11 L717.70,394.35 L719.63,396.59 L721.46,398.83 L723.14,401.07 L724.65,403.31 L725.94,405.54 L726.97,407.78 L727.72,410.02 L728.17,412.26 L728.30,414.50 L728.11,416.74 L727.61,418.97 L726.81,421.21 L725.73,423.45 L724.40,425.69 L722.86,427.93 L721.14,430.17 L719.30,432.40 L717.36,434.64 L715.38,436.88 L713.38,439.12 L711.42,441.36 L709.52,443.60 L707.71,445.83 L706.00,448.07 L704.42,450.31 L702.98,452.55 L701.68,454.79 L700.52,457.03 L699.50,459.26 L698.61,461.50 L697.85,463.74 L697.21,465.98 L696.67,468.22 L696.22,470.46 L695.85,472.69 L695.55,474.93 L695.31,477.17 L695.11,479.41 L694.96,481.65 L694.85,483.88 L694.76,486.12 L694.69,488.36 L694.64,490.60" fill="none" stroke="#000" stroke-width="4.8" stroke-linecap="butt"/>
<polygon points="694.40,627.30 696.08,627.30 696.43,628.79 696.84,630.28 697.31,631.76 697.86,633.25 698.49,634.74 699.20,636.23 700.00,637.72 700.90,639.21 701.91,640.69 703.01,642.18 704.22,643.67 705.53,645.16 706.95,646.65 708.46,648.14 710.07,649.62 711.75,651.11 713.51,652.60 715.32,654.09 717.18,655.58 719.05,657.07 720.92,658.55 722.77,660.04 724.57,661.53 726.29,663.02 727.92,664.51 729.43,666.00 730.80,667.49 731.99,668.97 733.00,670.46 733.81,671.95 734.40,673.44 734.77,674.93 734.90,676.41 734.80,677.90 734.46,679.39 733.89,680.88 733.11,682.37 732.12,683.86 730.94,685.35 729.59,686.83 728.10,688.32 726.48,689.81 724.77,691.30 722.97,692.79 721.13,694.27 719.26,695.76 717.39,697.25 715.53,698.74 713.72,700.23 711.95,701.72 710.26,703.21 708.64,704.69 707.12,706.18 705.69,707.67 704.36,709.16 703.14,710.65 702.03,712.13 701.01,713.62 700.10,715.11 699.29,716.60 694.40,716.60" fill="#7F7F7F"/>
<rect x="698.20" y="625.20" width="0.88" height="2.10" fill="#fff"/>
<rect x="694.40" y="625.20" width="3.80" height="2.10" fill="#7F7F7F"/>
<rect x="701.60" y="630.00" width="2.17" height="9.00" fill="#fff"/>
<rect x="694.40" y="630.00" width="7.20" height="9.00" fill="#7F7F7F"/>
<rect x="694.40" y="639.00" width="13.10" height="5.00" fill="#fff"/>
<rect x="698.20" y="644.00" width="14.73" height="5.50" fill="#fff"/>
<rect x="694.40" y="644.00" width="3.80" height="5.50" fill="#7F7F7F"/>
<rect x="705.80" y="649.50" width="12.78" height="4.80" fill="#fff"/>
<rect x="694.40" y="649.50" width="11.40" height="4.80" fill="#7F7F7F"/>
<rect x="721.70" y="654.30" width="3.02" height="4.90" fill="#fff"/>
<rect x="694.40" y="654.30" width="27.30" height="4.90" fill="#7F7F7F"/>
<rect x="729.30" y="659.20" width="0.31" height="4.10" fill="#fff"/>
<rect x="694.40" y="659.20" width="34.90" height="4.10" fill="#7F7F7F"/>
<rect x="718.20" y="663.30" width="16.19" height="4.90" fill="#fff"/>
<rect x="694.40" y="663.30" width="23.80" height="4.90" fill="#7F7F7F"/>
<rect x="694.40" y="668.20" width="43.20" height="4.80" fill="#7F7F7F"/>
<rect x="726.60" y="677.90" width="11.20" height="4.10" fill="#fff"/>
<rect x="694.40" y="677.90" width="32.20" height="4.10" fill="#7F7F7F"/>
<rect x="721.70" y="682.00" width="14.62" height="4.90" fill="#fff"/>
<rect x="694.40" y="682.00" width="27.30" height="4.90" fill="#7F7F7F"/>
<rect x="729.30" y="686.90" width="3.23" height="4.80" fill="#fff"/>
<rect x="694.40" y="686.90" width="34.90" height="4.80" fill="#7F7F7F"/>
<rect x="725.90" y="691.70" width="1.39" height="4.90" fill="#fff"/>
<rect x="694.40" y="691.70" width="31.50" height="4.90" fill="#7F7F7F"/>
<rect x="694.40" y="707.00" width="15.60" height="3.40" fill="#7F7F7F"/>
<rect x="698.00" y="716.60" width="4.29" height="4.20" fill="#fff"/>
<rect x="694.40" y="716.60" width="3.60" height="4.20" fill="#7F7F7F"/>
<path d="M696.08,627.30 L696.43,628.79 L696.84,630.28 L697.31,631.76 L697.86,633.25 L698.49,634.74 L699.20,636.23 L700.00,637.72 L700.90,639.21 L701.91,640.69 L703.01,642.18 L704.22,643.67 L705.53,645.16 L706.95,646.65 L708.46,648.14 L710.07,649.62 L711.75,651.11 L713.51,652.60 L715.32,654.09 L717.18,655.58 L719.05,657.07 L720.92,658.55 L722.77,660.04 L724.57,661.53 L726.29,663.02 L727.92,664.51 L729.43,666.00 L730.80,667.49 L731.99,668.97 L733.00,670.46 L733.81,671.95 L734.40,673.44 L734.77,674.93 L734.90,676.41 L734.80,677.90 L734.46,679.39 L733.89,680.88 L733.11,682.37 L732.12,683.86 L730.94,685.35 L729.59,686.83 L728.10,688.32 L726.48,689.81 L724.77,691.30 L722.97,692.79 L721.13,694.27 L719.26,695.76 L717.39,697.25 L715.53,698.74 L713.72,700.23 L711.95,701.72 L710.26,703.21 L708.64,704.69 L707.12,706.18 L705.69,707.67 L704.36,709.16 L703.14,710.65 L702.03,712.13 L701.01,713.62 L700.10,715.11 L699.29,716.60" fill="none" stroke="#000" stroke-width="4.8" stroke-linecap="butt"/>
<polygon points="1325.40,102.60 1326.07,102.60 1326.25,104.62 1326.47,106.65 1326.74,108.67 1327.06,110.69 1327.45,112.72 1327.90,114.74 1328.44,116.76 1329.06,118.79 1329.77,120.81 1330.57,122.83 1331.48,124.86 1332.50,126.88 1333.62,128.90 1334.84,130.93 1336.16,132.95 1337.57,134.97 1339.07,137.00 1340.62,139.02 1342.22,141.04 1343.85,143.07 1345.48,145.09 1347.09,147.11 1348.64,149.14 1350.11,151.16 1351.47,153.18 1352.70,155.21 1353.76,157.23 1354.64,159.25 1355.31,161.28 1355.76,163.30 1355.98,165.32 1355.96,167.35 1355.71,169.37 1355.23,171.39 1354.53,173.42 1353.63,175.44 1352.54,177.46 1351.30,179.49 1349.92,181.51 1348.44,183.53 1346.87,185.56 1345.26,187.58 1343.63,189.60 1342.01,191.63 1340.41,193.65 1338.86,195.67 1337.38,197.70 1335.98,199.72 1334.67,201.74 1333.46,203.77 1332.36,205.79 1331.36,207.81 1330.46,209.84 1329.67,211.86 1328.97,213.88 1328.36,215.91 1327.84,217.93 1327.39,219.95 1327.02,221.98 1326.70,224.00 1325.40,224.00" fill="#7F7F7F"/>
<rect x="1327.00" y="98.40" width="1.89" height="1.60" fill="#fff"/>
<rect x="1325.40" y="98.40" width="1.60" height="1.60" fill="#7F7F7F"/>
<rect x="1330.10" y="130.20" width="12.50" height="7.50" fill="#fff"/>
<rect x="1325.40" y="130.20" width="4.70" height="7.50" fill="#7F7F7F"/>
<rect x="1336.00" y="137.70" width="11.28" height="5.90" fill="#fff"/>
<rect x="1325.40" y="137.70" width="10.60" height="5.90" fill="#7F7F7F"/>
<rect x="1325.40" y="143.60" width="40.70" height="6.70" fill="#7F7F7F"/>
<rect x="1343.50" y="150.30" width="13.15" height="6.70" fill="#fff"/>
<rect x="1325.40" y="150.30" width="18.10" height="6.70" fill="#7F7F7F"/>
<rect x="1346.80" y="157.00" width="12.02" height="6.70" fill="#fff"/>
<rect x="1325.40" y="157.00" width="21.40" height="6.70" fill="#7F7F7F"/>
<rect x="1325.40" y="163.70" width="43.20" height="5.90" fill="#7F7F7F"/>
<rect x="1341.00" y="169.60" width="17.67" height="7.50" fill="#fff"/>
<rect x="1325.40" y="169.60" width="15.60" height="7.50" fill="#7F7F7F"/>
<rect x="1348.50" y="183.80" width="2.73" height="5.90" fill="#fff"/>
<rect x="1325.40" y="183.80" width="23.10" height="5.90" fill="#7F7F7F"/>
<rect x="1325.40" y="189.70" width="21.40" height="5.80" fill="#7F7F7F"/>
<rect x="1326.70" y="203.00" width="10.21" height="5.90" fill="#fff"/>
<rect x="1325.40" y="203.00" width="1.30" height="5.90" fill="#7F7F7F"/>
<rect x="1327.00" y="224.00" width="2.70" height="4.20" fill="#fff"/>
<rect x="1325.40" y="224.00" width="1.60" height="4.20" fill="#7F7F7F"/>
<path d="M1326.07,102.60 L1326.25,104.62 L1326.47,106.65 L1326.74,108.67 L1327.06,110.69 L1327.45,112.72 L1327.90,114.74 L1328.44,116.76 L1329.06,118.79 L1329.77,120.81 L1330.57,122.83 L1331.48,124.86 L1332.50,126.88 L1333.62,128.90 L1334.84,130.93 L1336.16,132.95 L1337.57,134.97 L1339.07,137.00 L1340.62,139.02 L1342.22,141.04 L1343.85,143.07 L1345.48,145.09 L1347.09,147.11 L1348.64,149.14 L1350.11,151.16 L1351.47,153.18 L1352.70,155.21 L1353.76,157.23 L1354.64,159.25 L1355.31,161.28 L1355.76,163.30 L1355.98,165.32 L1355.96,167.35 L1355.71,169.37 L1355.23,171.39 L1354.53,173.42 L1353.63,175.44 L1352.54,177.46 L1351.30,179.49 L1349.92,181.51 L1348.44,183.53 L1346.87,185.56 L1345.26,187.58 L1343.63,189.60 L1342.01,191.63 L1340.41,193.65 L1338.86,195.67 L1337.38,197.70 L1335.98,199.72 L1334.67,201.74 L1333.46,203.77 L1332.36,205.79 L1331.36,207.81 L1330.46,209.84 L1329.67,211.86 L1328.97,213.88 L1328.36,215.91 L1327.84,217.93 L1327.39,219.95 L1327.02,221.98 L1326.70,224.00" fill="none" stroke="#000" stroke-width="4.8" stroke-linecap="butt"/>
<polygon points="1325.20,378.80 1332.63,378.80 1333.67,380.48 1334.82,382.15 1336.07,383.83 1337.41,385.51 1338.85,387.18 1340.39,388.86 1342.01,390.54 1343.71,392.21 1345.48,393.89 1347.30,395.57 1349.17,397.24 1351.06,398.92 1352.96,400.60 1354.84,402.27 1356.70,403.95 1358.50,405.63 1360.22,407.30 1361.85,408.98 1363.36,410.66 1364.73,412.33 1365.94,414.01 1366.97,415.69 1367.81,417.36 1368.45,419.04 1368.87,420.72 1369.08,422.39 1369.06,424.07 1368.82,425.75 1368.36,427.42 1367.69,429.10 1366.82,430.78 1365.76,432.45 1364.52,434.13 1363.13,435.81 1361.60,437.48 1359.96,439.16 1358.22,440.84 1356.41,442.51 1354.55,444.19 1352.66,445.87 1350.76,447.54 1348.87,449.22 1347.01,450.90 1345.19,452.57 1343.44,454.25 1341.75,455.93 1340.14,457.60 1338.62,459.28 1337.19,460.96 1335.86,462.63 1334.63,464.31 1333.50,465.99 1332.47,467.66 1331.53,469.34 1330.69,471.02 1329.94,472.69 1329.26,474.37 1328.67,476.05 1328.15,477.72 1327.69,479.40 1325.20,479.40" fill="#7F7F7F"/>
<rect x="1333.80" y="375.80" width="3.22" height="5.20" fill="#fff"/>
<rect x="1325.20" y="375.80" width="8.60" height="5.20" fill="#7F7F7F"/>
<rect x="1325.20" y="381.00" width="28.80" height="6.00" fill="#7F7F7F"/>
<rect x="1333.80" y="387.00" width="12.18" height="4.50" fill="#fff"/>
<rect x="1325.20" y="387.00" width="8.60" height="4.50" fill="#7F7F7F"/>
<rect x="1325.20" y="391.50" width="28.80" height="5.30" fill="#7F7F7F"/>
<rect x="1325.20" y="396.80" width="43.80" height="6.00" fill="#7F7F7F"/>
<rect x="1339.00" y="413.30" width="32.53" height="6.00" fill="#fff"/>
<rect x="1325.20" y="413.30" width="13.80" height="6.00" fill="#7F7F7F"/>
<rect x="1339.00" y="435.00" width="27.82" height="5.30" fill="#fff"/>
<rect x="1325.20" y="435.00" width="13.80" height="5.30" fill="#7F7F7F"/>
<rect x="1325.20" y="440.30" width="43.80" height="5.30" fill="#7F7F7F"/>
<rect x="1325.20" y="445.60" width="34.10" height="10.50" fill="#7F7F7F"/>
<rect x="1325.20" y="461.40" width="14.63" height="5.50" fill="#fff"/>
<rect x="1333.80" y="466.90" width="2.13" height="10.20" fill="#fff"/>
<rect x="1325.20" y="466.90" width="8.60" height="10.20" fill="#7F7F7F"/>
<rect x="1328.50" y="477.10" width="2.83" height="5.30" fill="#fff"/>
<rect x="1325.20" y="477.10" width="3.30" height="5.30" fill="#7F7F7F"/>
<path d="M1332.63,378.80 L1333.67,380.48 L1334.82,382.15 L1336.07,383.83 L1337.41,385.51 L1338.85,387.18 L1340.39,388.86 L1342.01,390.54 L1343.71,392.21 L1345.48,393.89 L1347.30,395.57 L1349.17,397.24 L1351.06,398.92 L1352.96,400.60 L1354.84,402.27 L1356.70,403.95 L1358.50,405.63 L1360.22,407.30 L1361.85,408.98 L1363.36,410.66 L1364.73,412.33 L1365.94,414.01 L1366.97,415.69 L1367.81,417.36 L1368.45,419.04 L1368.87,420.72 L1369.08,422.39 L1369.06,424.07 L1368.82,425.75 L1368.36,427.42 L1367.69,429.10 L1366.82,430.78 L1365.76,432.45 L1364.52,434.13 L1363.13,435.81 L1361.60,437.48 L1359.96,439.16 L1358.22,440.84 L1356.41,442.51 L1354.55,444.19 L1352.66,445.87 L1350.76,447.54 L1348.87,449.22 L1347.01,450.90 L1345.19,452.57 L1343.44,454.25 L1341.75,455.93 L1340.14,457.60 L1338.62,459.28 L1337.19,460.96 L1335.86,462.63 L1334.63,464.31 L1333.50,465.99 L1332.47,467.66 L1331.53,469.34 L1330.69,471.02 L1329.94,472.69 L1329.26,474.37 L1328.67,476.05 L1328.15,477.72 L1327.69,479.40" fill="none" stroke="#000" stroke-width="4.8" stroke-linecap="butt"/>
<polygon points="1325.40,618.40 1325.81,618.40 1325.93,620.39 1326.08,622.39 1326.28,624.38 1326.51,626.38 1326.81,628.38 1327.16,630.37 1327.58,632.37 1328.08,634.36 1328.68,636.36 1329.37,638.35 1330.16,640.35 1331.07,642.34 1332.10,644.34 1333.24,646.33 1334.51,648.33 1335.90,650.32 1337.40,652.31 1339.00,654.31 1340.69,656.30 1342.45,658.30 1344.25,660.29 1346.08,662.29 1347.89,664.28 1349.67,666.28 1351.37,668.27 1352.96,670.27 1354.40,672.26 1355.68,674.26 1356.75,676.25 1357.60,678.25 1358.19,680.25 1358.53,682.24 1358.59,684.24 1358.38,686.23 1357.91,688.23 1357.17,690.22 1356.20,692.22 1355.02,694.21 1353.65,696.21 1352.12,698.20 1350.46,700.20 1348.72,702.19 1346.92,704.19 1345.10,706.18 1343.28,708.17 1341.50,710.17 1339.78,712.16 1338.13,714.16 1336.58,716.15 1335.14,718.15 1333.82,720.14 1332.61,722.14 1331.53,724.13 1330.57,726.13 1329.72,728.12 1328.98,730.12 1328.35,732.12 1327.80,734.11 1327.35,736.11 1326.96,738.10 1325.40,738.10" fill="#7F7F7F"/>
<rect x="1327.50" y="615.00" width="1.26" height="2.50" fill="#fff"/>
<rect x="1325.40" y="615.00" width="2.10" height="2.50" fill="#7F7F7F"/>
<rect x="1336.80" y="640.20" width="0.83" height="8.30" fill="#fff"/>
<rect x="1325.40" y="640.20" width="11.40" height="8.30" fill="#7F7F7F"/>
<rect x="1330.90" y="648.50" width="10.44" height="5.00" fill="#fff"/>
<rect x="1325.40" y="648.50" width="5.50" height="5.00" fill="#7F7F7F"/>
<rect x="1325.40" y="659.40" width="27.30" height="6.70" fill="#7F7F7F"/>
<rect x="1346.80" y="672.00" width="13.95" height="6.70" fill="#fff"/>
<rect x="1325.40" y="672.00" width="21.40" height="6.70" fill="#7F7F7F"/>
<rect x="1325.40" y="678.70" width="43.20" height="5.80" fill="#7F7F7F"/>
<rect x="1352.70" y="684.50" width="8.88" height="5.90" fill="#fff"/>
<rect x="1325.40" y="684.50" width="27.30" height="5.90" fill="#7F7F7F"/>
<rect x="1325.40" y="690.40" width="39.00" height="7.50" fill="#7F7F7F"/>
<rect x="1342.60" y="697.90" width="12.76" height="5.90" fill="#fff"/>
<rect x="1325.40" y="697.90" width="17.20" height="5.90" fill="#7F7F7F"/>
<rect x="1325.40" y="703.80" width="30.60" height="5.90" fill="#7F7F7F"/>
<rect x="1330.90" y="709.70" width="14.01" height="17.60" fill="#fff"/>
<rect x="1325.40" y="709.70" width="5.50" height="17.60" fill="#7F7F7F"/>
<rect x="1328.00" y="738.00" width="1.98" height="3.50" fill="#fff"/>
<rect x="1325.40" y="738.00" width="2.60" height="3.50" fill="#7F7F7F"/>
<path d="M1325.81,618.40 L1325.93,620.39 L1326.08,622.39 L1326.28,624.38 L1326.51,626.38 L1326.81,628.38 L1327.16,630.37 L1327.58,632.37 L1328.08,634.36 L1328.68,636.36 L1329.37,638.35 L1330.16,640.35 L1331.07,642.34 L1332.10,644.34 L1333.24,646.33 L1334.51,648.33 L1335.90,650.32 L1337.40,652.31 L1339.00,654.31 L1340.69,656.30 L1342.45,658.30 L1344.25,660.29 L1346.08,662.29 L1347.89,664.28 L1349.67,666.28 L1351.37,668.27 L1352.96,670.27 L1354.40,672.26 L1355.68,674.26 L1356.75,676.25 L1357.60,678.25 L1358.19,680.25 L1358.53,682.24 L1358.59,684.24 L1358.38,686.23 L1357.91,688.23 L1357.17,690.22 L1356.20,692.22 L1355.02,694.21 L1353.65,696.21 L1352.12,698.20 L1350.46,700.20 L1348.72,702.19 L1346.92,704.19 L1345.10,706.18 L1343.28,708.17 L1341.50,710.17 L1339.78,712.16 L1338.13,714.16 L1336.58,716.15 L1335.14,718.15 L1333.82,720.14 L1332.61,722.14 L1331.53,724.13 L1330.57,726.13 L1329.72,728.12 L1328.98,730.12 L1328.35,732.12 L1327.80,734.11 L1327.35,736.11 L1326.96,738.10" fill="none" stroke="#000" stroke-width="4.8" stroke-linecap="butt"/>
<line x1="77.20" y1="80.20" x2="114.00" y2="80.20" stroke="#000" stroke-width="2.2"/>
<line x1="77.20" y1="110.60" x2="114.00" y2="110.60" stroke="#EC7C02" stroke-width="2.2"/>
<text x="133.34" y="89.10" font-size="24.40" textLength="108.19" lengthAdjust="spacingAndGlyphs" fill="#000">Empirical</text>
<text x="133.36" y="118.50" font-size="24.40" textLength="129.01" lengthAdjust="spacingAndGlyphs" fill="#000">Predictions</text>
</svg></body></html>
